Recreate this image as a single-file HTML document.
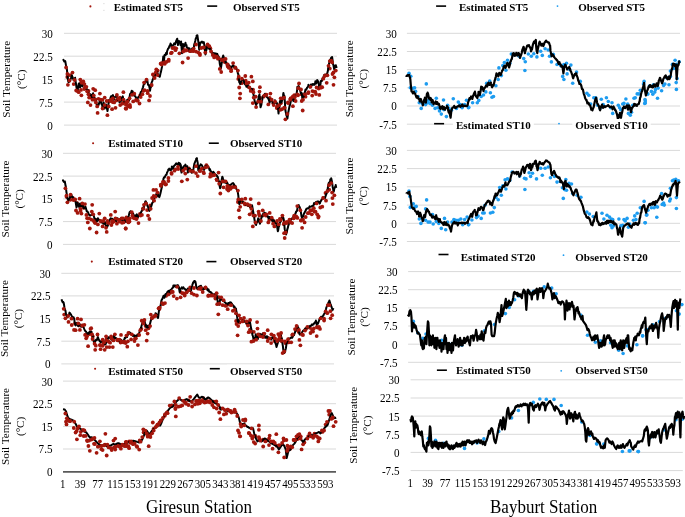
<!DOCTYPE html><html><head><meta charset="utf-8"><style>html,body{margin:0;padding:0;background:#fff;width:685px;height:517px;overflow:hidden}svg{display:block;will-change:transform}text{font-family:"Liberation Serif",serif;fill:#000}</style></head><body>
<svg width="685" height="517" viewBox="0 0 685 517">
<rect width="685" height="517" fill="#fff"/>
<text transform="translate(52.8,37.7) scale(1,1.09)" font-size="11.1" text-anchor="end">30</text>
<text transform="translate(52.8,60.6) scale(1,1.09)" font-size="11.1" text-anchor="end">22.5</text>
<text transform="translate(52.8,83.6) scale(1,1.09)" font-size="11.1" text-anchor="end">15</text>
<text transform="translate(52.8,106.5) scale(1,1.09)" font-size="11.1" text-anchor="end">7.5</text>
<text transform="translate(52.8,129.5) scale(1,1.09)" font-size="11.1" text-anchor="end">0</text>
<line x1="64" x2="337" y1="33.3" y2="33.3" stroke="#d9d9d9" stroke-width="1"/><line x1="64" x2="337" y1="56.2" y2="56.2" stroke="#d9d9d9" stroke-width="1"/><line x1="64" x2="337" y1="79.2" y2="79.2" stroke="#d9d9d9" stroke-width="1"/><line x1="64" x2="337" y1="102.1" y2="102.1" stroke="#d9d9d9" stroke-width="1"/><line x1="64" x2="337" y1="125.1" y2="125.1" stroke="#d9d9d9" stroke-width="1"/>
<text transform="translate(9.9,79.2) rotate(-90)" font-size="11.2" text-anchor="middle">Soil Temperature</text>
<text transform="translate(24.5,79.2) rotate(-90)" font-size="11.2" text-anchor="middle">(°C)</text>
<text transform="translate(52.5,157.7) scale(1,1.09)" font-size="11.1" text-anchor="end">30</text>
<text transform="translate(52.5,180.5) scale(1,1.09)" font-size="11.1" text-anchor="end">22.5</text>
<text transform="translate(52.5,203.3) scale(1,1.09)" font-size="11.1" text-anchor="end">15</text>
<text transform="translate(52.5,226) scale(1,1.09)" font-size="11.1" text-anchor="end">7.5</text>
<text transform="translate(52.5,248.8) scale(1,1.09)" font-size="11.1" text-anchor="end">0</text>
<line x1="63" x2="336" y1="153.3" y2="153.3" stroke="#d9d9d9" stroke-width="1"/><line x1="63" x2="336" y1="176.1" y2="176.1" stroke="#d9d9d9" stroke-width="1"/><line x1="63" x2="336" y1="198.9" y2="198.9" stroke="#d9d9d9" stroke-width="1"/><line x1="63" x2="336" y1="221.6" y2="221.6" stroke="#d9d9d9" stroke-width="1"/><line x1="63" x2="336" y1="244.4" y2="244.4" stroke="#d9d9d9" stroke-width="1"/>
<text transform="translate(9.2,198.9) rotate(-90)" font-size="11.2" text-anchor="middle">Soil Temperature</text>
<text transform="translate(22.7,198.9) rotate(-90)" font-size="11.2" text-anchor="middle">(°C)</text>
<text transform="translate(50.5,277.7) scale(1,1.09)" font-size="11.1" text-anchor="end">30</text>
<text transform="translate(50.5,300.3) scale(1,1.09)" font-size="11.1" text-anchor="end">22.5</text>
<text transform="translate(50.5,323) scale(1,1.09)" font-size="11.1" text-anchor="end">15</text>
<text transform="translate(50.5,345.6) scale(1,1.09)" font-size="11.1" text-anchor="end">7.5</text>
<text transform="translate(50.5,368.3) scale(1,1.09)" font-size="11.1" text-anchor="end">0</text>
<line x1="61.3" x2="334" y1="273.3" y2="273.3" stroke="#d9d9d9" stroke-width="1"/><line x1="61.3" x2="334" y1="295.9" y2="295.9" stroke="#d9d9d9" stroke-width="1"/><line x1="61.3" x2="334" y1="318.6" y2="318.6" stroke="#d9d9d9" stroke-width="1"/><line x1="61.3" x2="334" y1="341.2" y2="341.2" stroke="#d9d9d9" stroke-width="1"/><line x1="61.3" x2="334" y1="363.9" y2="363.9" stroke="#d9d9d9" stroke-width="1"/>
<text transform="translate(8.1,318.6) rotate(-90)" font-size="11.2" text-anchor="middle">Soil Temperature</text>
<text transform="translate(21.7,318.6) rotate(-90)" font-size="11.2" text-anchor="middle">(°C)</text>
<text transform="translate(52.5,385.5) scale(1,1.09)" font-size="11.1" text-anchor="end">30</text>
<text transform="translate(52.5,408.1) scale(1,1.09)" font-size="11.1" text-anchor="end">22.5</text>
<text transform="translate(52.5,430.8) scale(1,1.09)" font-size="11.1" text-anchor="end">15</text>
<text transform="translate(52.5,453.4) scale(1,1.09)" font-size="11.1" text-anchor="end">7.5</text>
<text transform="translate(52.5,476) scale(1,1.09)" font-size="11.1" text-anchor="end">0</text>
<line x1="63" x2="336" y1="381.1" y2="381.1" stroke="#d9d9d9" stroke-width="1"/><line x1="63" x2="336" y1="403.7" y2="403.7" stroke="#d9d9d9" stroke-width="1"/><line x1="63" x2="336" y1="426.4" y2="426.4" stroke="#d9d9d9" stroke-width="1"/><line x1="63" x2="336" y1="449" y2="449" stroke="#d9d9d9" stroke-width="1"/>
<line x1="63" x2="336" y1="471.8" y2="471.8" stroke="#5a5a5a" stroke-width="1.7"/>
<text transform="translate(9.2,426.4) rotate(-90)" font-size="11.2" text-anchor="middle">Soil Temperature</text>
<text transform="translate(23.6,426.4) rotate(-90)" font-size="11.2" text-anchor="middle">(°C)</text>
<text transform="translate(396.8,37.7) scale(1,1.09)" font-size="11.1" text-anchor="end">30</text>
<text transform="translate(396.8,55.9) scale(1,1.09)" font-size="11.1" text-anchor="end">22.5</text>
<text transform="translate(396.8,74.1) scale(1,1.09)" font-size="11.1" text-anchor="end">15</text>
<text transform="translate(396.8,92.2) scale(1,1.09)" font-size="11.1" text-anchor="end">7.5</text>
<text transform="translate(396.8,110.4) scale(1,1.09)" font-size="11.1" text-anchor="end">0</text>
<text transform="translate(396.8,128.6) scale(1,1.09)" font-size="11.1" text-anchor="end">-7.5</text>
<line x1="406.9" x2="680" y1="33.3" y2="33.3" stroke="#d9d9d9" stroke-width="1"/><line x1="406.9" x2="680" y1="51.5" y2="51.5" stroke="#d9d9d9" stroke-width="1"/><line x1="406.9" x2="680" y1="69.7" y2="69.7" stroke="#d9d9d9" stroke-width="1"/><line x1="406.9" x2="680" y1="87.8" y2="87.8" stroke="#d9d9d9" stroke-width="1"/><line x1="406.9" x2="680" y1="106" y2="106" stroke="#d9d9d9" stroke-width="1"/><line x1="406.9" x2="680" y1="124.2" y2="124.2" stroke="#d9d9d9" stroke-width="1"/>
<text transform="translate(353,78.8) rotate(-90)" font-size="11.2" text-anchor="middle">Soil Temperature</text>
<text transform="translate(367.2,78.8) rotate(-90)" font-size="11.2" text-anchor="middle">(°C)</text>
<text transform="translate(396.8,154.8) scale(1,1.09)" font-size="11.1" text-anchor="end">30</text>
<text transform="translate(396.8,173) scale(1,1.09)" font-size="11.1" text-anchor="end">22.5</text>
<text transform="translate(396.8,191.2) scale(1,1.09)" font-size="11.1" text-anchor="end">15</text>
<text transform="translate(396.8,209.5) scale(1,1.09)" font-size="11.1" text-anchor="end">7.5</text>
<text transform="translate(396.8,227.7) scale(1,1.09)" font-size="11.1" text-anchor="end">0</text>
<text transform="translate(396.8,245.9) scale(1,1.09)" font-size="11.1" text-anchor="end">-7.5</text>
<line x1="406.9" x2="680" y1="150.4" y2="150.4" stroke="#d9d9d9" stroke-width="1"/><line x1="406.9" x2="680" y1="168.6" y2="168.6" stroke="#d9d9d9" stroke-width="1"/><line x1="406.9" x2="680" y1="186.8" y2="186.8" stroke="#d9d9d9" stroke-width="1"/><line x1="406.9" x2="680" y1="205.1" y2="205.1" stroke="#d9d9d9" stroke-width="1"/><line x1="406.9" x2="680" y1="223.3" y2="223.3" stroke="#d9d9d9" stroke-width="1"/><line x1="406.9" x2="680" y1="241.5" y2="241.5" stroke="#d9d9d9" stroke-width="1"/>
<text transform="translate(352.5,195.9) rotate(-90)" font-size="11.2" text-anchor="middle">Soil Temperature</text>
<text transform="translate(367.3,195.9) rotate(-90)" font-size="11.2" text-anchor="middle">(°C)</text>
<text transform="translate(397.6,276) scale(1,1.09)" font-size="11.1" text-anchor="end">30</text>
<text transform="translate(397.6,294.1) scale(1,1.09)" font-size="11.1" text-anchor="end">22.5</text>
<text transform="translate(397.6,312.3) scale(1,1.09)" font-size="11.1" text-anchor="end">15</text>
<text transform="translate(397.6,330.4) scale(1,1.09)" font-size="11.1" text-anchor="end">7.5</text>
<text transform="translate(397.6,348.6) scale(1,1.09)" font-size="11.1" text-anchor="end">0</text>
<text transform="translate(397.6,366.7) scale(1,1.09)" font-size="11.1" text-anchor="end">-7.5</text>
<line x1="408.1" x2="681" y1="271.6" y2="271.6" stroke="#d9d9d9" stroke-width="1"/><line x1="408.1" x2="681" y1="289.7" y2="289.7" stroke="#d9d9d9" stroke-width="1"/><line x1="408.1" x2="681" y1="307.9" y2="307.9" stroke="#d9d9d9" stroke-width="1"/><line x1="408.1" x2="681" y1="326" y2="326" stroke="#d9d9d9" stroke-width="1"/><line x1="408.1" x2="681" y1="344.2" y2="344.2" stroke="#d9d9d9" stroke-width="1"/><line x1="408.1" x2="681" y1="362.3" y2="362.3" stroke="#d9d9d9" stroke-width="1"/>
<text transform="translate(355,317) rotate(-90)" font-size="11.2" text-anchor="middle">Soil Temperature</text>
<text transform="translate(368.4,317) rotate(-90)" font-size="11.2" text-anchor="middle">(°C)</text>
<text transform="translate(399.5,384.2) scale(1,1.09)" font-size="11.1" text-anchor="end">30</text>
<text transform="translate(399.5,402.4) scale(1,1.09)" font-size="11.1" text-anchor="end">22.5</text>
<text transform="translate(399.5,420.5) scale(1,1.09)" font-size="11.1" text-anchor="end">15</text>
<text transform="translate(399.5,438.7) scale(1,1.09)" font-size="11.1" text-anchor="end">7.5</text>
<text transform="translate(399.5,456.8) scale(1,1.09)" font-size="11.1" text-anchor="end">0</text>
<text transform="translate(399.5,475) scale(1,1.09)" font-size="11.1" text-anchor="end">-7.5</text>
<line x1="410.6" x2="682.8" y1="379.8" y2="379.8" stroke="#d9d9d9" stroke-width="1"/><line x1="410.6" x2="682.8" y1="398" y2="398" stroke="#d9d9d9" stroke-width="1"/><line x1="410.6" x2="682.8" y1="416.1" y2="416.1" stroke="#d9d9d9" stroke-width="1"/><line x1="410.6" x2="682.8" y1="434.3" y2="434.3" stroke="#d9d9d9" stroke-width="1"/><line x1="410.6" x2="682.8" y1="452.4" y2="452.4" stroke="#d9d9d9" stroke-width="1"/><line x1="410.6" x2="682.8" y1="470.6" y2="470.6" stroke="#d9d9d9" stroke-width="1"/>
<text transform="translate(357.4,425.2) rotate(-90)" font-size="11.2" text-anchor="middle">Soil Temperature</text>
<text transform="translate(370.7,425.2) rotate(-90)" font-size="11.2" text-anchor="middle">(°C)</text>
<g fill="#a3160c"><circle cx="67.3" cy="77" r="1.9"/><circle cx="70.1" cy="75.2" r="1.9"/><circle cx="73.7" cy="84.1" r="1.9"/><circle cx="77.7" cy="91" r="1.9"/><circle cx="81.2" cy="82.2" r="1.9"/><circle cx="84.2" cy="89" r="1.9"/><circle cx="88.5" cy="91" r="1.9"/><circle cx="91.5" cy="97.7" r="1.9"/><circle cx="95.3" cy="99.4" r="1.9"/><circle cx="98.5" cy="98.8" r="1.9"/><circle cx="102.4" cy="99.9" r="1.9"/><circle cx="105.2" cy="105.8" r="1.9"/><circle cx="108.9" cy="101" r="1.9"/><circle cx="112.7" cy="102.1" r="1.9"/><circle cx="116.6" cy="100.3" r="1.9"/><circle cx="120" cy="97.6" r="1.9"/><circle cx="123.3" cy="103.1" r="1.9"/><circle cx="126.5" cy="102.7" r="1.9"/><circle cx="129.9" cy="104.9" r="1.9"/><circle cx="133.2" cy="101.4" r="1.9"/><circle cx="137" cy="100.6" r="1.9"/><circle cx="140.2" cy="95.3" r="1.9"/><circle cx="144.6" cy="90.2" r="1.9"/><circle cx="147.7" cy="93.2" r="1.9"/><circle cx="151" cy="85.6" r="1.9"/><circle cx="154.1" cy="75.5" r="1.9"/><circle cx="157.7" cy="70.6" r="1.9"/><circle cx="161.2" cy="63.3" r="1.9"/><circle cx="164.8" cy="63.8" r="1.9"/><circle cx="168.7" cy="60.9" r="1.9"/><circle cx="171.8" cy="52.6" r="1.9"/><circle cx="175.5" cy="50.2" r="1.9"/><circle cx="179.4" cy="53.3" r="1.9"/><circle cx="182.9" cy="48.5" r="1.9"/><circle cx="186" cy="50.1" r="1.9"/><circle cx="189.9" cy="51.2" r="1.9"/><circle cx="193.3" cy="51.2" r="1.9"/><circle cx="196.1" cy="51.6" r="1.9"/><circle cx="199.7" cy="53.7" r="1.9"/><circle cx="204" cy="47.6" r="1.9"/><circle cx="207" cy="46.5" r="1.9"/><circle cx="210.4" cy="48.4" r="1.9"/><circle cx="214.2" cy="57.4" r="1.9"/><circle cx="217.9" cy="58.7" r="1.9"/><circle cx="221.2" cy="59.3" r="1.9"/><circle cx="224.7" cy="62" r="1.9"/><circle cx="227.8" cy="66.5" r="1.9"/><circle cx="231.2" cy="69.6" r="1.9"/><circle cx="235.3" cy="67.3" r="1.9"/><circle cx="238.3" cy="78.9" r="1.9"/><circle cx="241.8" cy="83.2" r="1.9"/><circle cx="245.7" cy="80.6" r="1.9"/><circle cx="248.7" cy="82.7" r="1.9"/><circle cx="253" cy="89.6" r="1.9"/><circle cx="255.7" cy="96.7" r="1.9"/><circle cx="260.1" cy="98" r="1.9"/><circle cx="263.5" cy="96.7" r="1.9"/><circle cx="266.3" cy="94.6" r="1.9"/><circle cx="269.7" cy="97.9" r="1.9"/><circle cx="273.3" cy="103.3" r="1.9"/><circle cx="276.8" cy="108" r="1.9"/><circle cx="280.8" cy="103.3" r="1.9"/><circle cx="284.2" cy="107.7" r="1.9"/><circle cx="287.9" cy="102.4" r="1.9"/><circle cx="290.7" cy="98.4" r="1.9"/><circle cx="294.3" cy="95.2" r="1.9"/><circle cx="298" cy="95.3" r="1.9"/><circle cx="301.3" cy="94.2" r="1.9"/><circle cx="305.5" cy="96.7" r="1.9"/><circle cx="308.2" cy="93.2" r="1.9"/><circle cx="312.4" cy="91.1" r="1.9"/><circle cx="316" cy="94" r="1.9"/><circle cx="318.7" cy="88.6" r="1.9"/><circle cx="322.2" cy="87.2" r="1.9"/><circle cx="325.8" cy="75.2" r="1.9"/><circle cx="329.8" cy="68.6" r="1.9"/><circle cx="333.5" cy="72.4" r="1.9"/></g>
<polyline fill="none" stroke="#000" stroke-width="2" stroke-linejoin="round" points="63.4,60.2 63.4,59.7 64.3,61.5 65.2,61.1 65.4,61.8 66.1,66.1 66.5,67.2 67,70.1 67.4,75.3 67.9,79.4 68.4,82.1 68.8,82 69.7,81.1 69.7,81.4 70.6,79.2 71.5,76.9 71.9,75.3 72.4,77 73.3,79.1 73.5,80 74.2,79.1 75.1,77.7 75.2,79.4 76,83.8 76.5,87.5 76.9,88.8 77.6,89.5 77.8,89.2 78.7,83.7 79,83.4 79.6,86.9 80,87.5 80.5,85.2 81,83.4 81.4,83.7 82.3,86.4 82.3,85.5 83.2,84.1 83.7,83.4 84.1,83.3 85,87.5 85,86.8 85.9,87.9 86.4,89.5 86.8,89 87.7,89.9 87.8,90.9 88.6,93.2 89.1,95.6 89.5,95.3 90.4,95 90.5,94.3 91.3,95 91.8,97 92.2,97.3 93.1,93.3 93.2,94.3 94,96.6 94.5,98.3 94.9,98.7 95.8,101.9 95.9,101 96.7,104.4 97.2,106.4 97.6,105.6 98.5,104.5 98.6,105.1 99.4,102.3 99.9,100.4 100.3,101.1 101.2,102.3 101.3,103.7 102.1,104.9 102.6,107.8 103,106.2 103.6,102.4 103.9,103.8 104.7,108.5 104.8,107.8 105.7,105.7 106,104.4 106.6,107 107.4,110.5 107.5,111.1 108.4,104.2 108.5,103.7 109.3,100.6 109.8,99.7 110.2,98.8 111.1,96.2 111.2,97 112,96.6 112.5,95.6 112.9,95 113.8,98.4 113.9,99.7 114.7,97.2 115.2,97 115.6,96.5 116.5,95.8 116.6,95.6 117.4,98.9 117.9,99.7 118.3,100.2 119.2,100.7 119.6,102.4 120.1,101.9 120.9,101 121,100.4 121.9,97.8 122.6,97 122.8,96.4 123.7,102 123.9,101 124.6,101.2 125.3,101.7 125.5,101.9 126.4,101.7 127,100.4 127.3,99.7 128.2,101.1 129,100.4 129.1,100.1 130,94.4 130.2,93.7 130.9,93.5 131.7,90.8 131.8,90.9 132.7,91.3 133.1,93.7 133.6,94.3 134.5,95.9 134.9,96 135.4,96.3 136.3,98.5 136.6,98.3 137.2,98.4 138.1,97.8 138.3,97.1 139,97 139.9,96.4 140.1,94.8 140.8,92 141.7,91.4 141.8,91.3 142.6,88.3 143,87.3 143.5,85.2 144.1,83.2 144.4,84.1 145.3,81.3 145.9,80.9 146.2,81.7 147.1,81.7 147.3,80.3 148,84.6 148.2,85 148.9,85.1 149.8,89 150,90.8 150.7,86.5 151.1,86.7 151.6,82.7 152.5,80.6 152.6,79.7 153.4,78.2 154,75.1 154.3,75.3 155.2,75.4 155.4,72.8 156.1,72.9 156.9,71.6 157,71.4 157.9,74.4 158.7,76.2 158.8,75.5 159.7,76.1 159.8,76.8 160.6,72.9 161,71.6 161.5,69.1 162.1,66.4 162.4,64.6 163.3,56.4 163.5,56.7 163.9,62.3 164.2,58.5 164.6,55 165.1,54.8 165.8,55 166,52.9 166.9,53.9 167,51.5 167.8,49.4 168.1,48.6 168.7,48.2 169.3,46.2 169.6,45.8 170.4,44.5 170.5,43.6 171.4,45.1 171.6,47.4 172.3,45.8 172.8,45.7 173.2,45 173.9,44.5 174.1,43.5 175,43.2 175.1,44.5 175.9,42.2 176.2,41 176.8,39.6 177.2,38.7 177.7,42.1 178,45.1 178.6,41.4 179.1,41 179.5,42 180.3,43.3 180.4,44.9 181.1,41.6 181.3,44.1 182,53.2 182.2,52.1 183,43.9 183.1,44.2 184,44.5 184.4,46.2 184.9,45.5 185.5,42.8 185.8,44.7 186.5,45.1 186.7,47.3 187.3,47.4 187.6,47.4 188.1,49.1 188.5,50.2 189,48.6 189.4,48.3 190.2,49.7 190.3,50.9 191.1,50.9 191.2,51.6 191.9,50.3 192.1,48.6 193,49.2 193.1,49.1 193.9,47 194.2,44.5 194.8,42.7 195.4,40.4 195.7,38.8 196.6,37 196.6,35.6 197.4,35.2 197.5,36 198.3,41.6 198.4,42.1 199.2,49.7 199.3,49.5 200,43.9 200.2,42.6 201.1,42.6 201.2,42.2 202,41.6 202.4,42.8 202.9,42.2 203.5,42.8 203.8,42.1 204.7,47.4 204.7,48.8 205.5,54.4 205.6,53.5 206.4,49.7 206.5,49.9 207.3,46.2 207.4,44.8 208.3,44.8 208.5,47.4 209.2,48.7 209.7,48.6 210.1,48.8 210.8,50.9 211,50.5 211.9,52.9 212.2,53.2 212.8,52.9 213.4,53.2 213.7,54.1 214.5,54.4 214.6,53.2 215.5,53.4 215.7,55 216.4,53.7 216.9,53.8 217.3,54 218,56.1 218.2,56 219,57.3 219.1,57.8 219.8,63.7 220,64.7 220.9,68.6 220.9,68.3 221.8,62.7 222.1,61.3 222.7,57.4 223.2,55.5 223.6,56.5 224.4,60.2 224.5,60.3 225.4,61 225.6,62.5 226.3,62.7 226.4,62.4 226.7,63.7 227.2,64 227.7,65.2 228.1,65.1 228.5,64.8 229,65.7 229.1,65.8 229.9,66.1 230.4,67.9 230.8,66.8 231.7,67.1 231.8,66.5 232.6,66.2 233.1,65.2 233.5,66.2 234.4,67.3 234.5,66.5 235.3,67.6 235.8,68.5 236.2,68.1 237.1,69.8 237.2,69.9 238,74 238.3,74 238.9,78.5 239.2,82.1 239.8,83.1 240.2,84.1 240.7,82.7 241.2,81.4 241.6,80.3 242.3,79.4 242.5,80.2 243.4,80.1 243.7,80.7 244.3,83.1 245,84.1 245.2,84.5 246.1,85.3 246.4,86.8 247,85.6 247.7,84.8 247.9,87.5 248.8,86.4 249.1,86.8 249.7,87.5 250.5,89.5 250.6,89.4 251.5,89.2 251.8,88.8 252.4,91.3 253.2,93.6 253.3,93.1 254.1,98.3 254.2,98.5 255.1,103.1 255.1,102.2 256,104.7 256.1,105.1 256.9,102.9 257.2,103.1 257.8,100.7 258.6,98.3 258.7,96.8 259.5,94.3 259.6,95.6 260.5,107.1 260.5,107.3 261.4,104.7 261.6,102.4 262.3,99.4 262.6,97 263.2,96.3 264,94.9 264.1,96 265,93.8 265.3,95.6 265.9,95.8 266.7,97 266.8,96.9 267.7,97.9 268.1,98.3 268.6,99.3 269.4,101.7 269.5,103 270.4,99.4 270.8,99 271.3,99.5 272.1,101.7 272.2,101.7 273.1,103 273.5,104.4 274,103.5 274.8,101 274.9,100.2 275.8,102.6 276.2,103.1 276.7,102.7 277.5,105.1 277.6,105 278.5,113.2 278.5,113.6 279.4,106.7 279.4,107.8 280,101 280.3,101.9 280.5,102.4 281.2,100.6 281.4,102.4 282.1,100.6 282.4,99.7 283,96 283.4,92.9 283.9,95.4 284.3,95.6 284.8,100.7 285.4,110.5 285.7,111.9 286.5,115.9 286.6,115.6 287.4,118.6 287.5,117.9 288.4,111.7 288.4,111.9 289.3,107.3 289.5,106.4 290.2,104.1 290.8,101 291.1,100.2 292,98 292.2,98.3 292.9,99.8 293.5,101 293.8,100.5 294.7,97.5 294.9,97 295.6,95.3 296.2,94.3 296.5,94.5 297.3,88.8 297.4,86.7 298.3,87 298.7,86.1 299.2,87.7 300,88.8 300.1,90.5 301,93.5 301.4,92.9 301.9,94.4 302.3,98.3 302.8,98.4 303.3,95.6 303.7,96.5 304.4,92.9 304.6,93.5 305.5,89.4 305.7,90.2 306.4,89.4 307.1,87.5 307.3,87.7 308.2,86.4 308.4,84.8 309.1,85.9 309.8,86.1 310,87.6 310.9,84.4 311.1,85.5 311.8,85.3 312.5,84.1 312.7,84.8 313.6,84.6 313.8,84.1 314.5,84.8 315.2,82.8 315.4,81.2 316.3,82.1 316.3,83.4 317.2,80.2 317.2,80 318.1,81.6 318.2,81.4 319,85.3 319.3,87.5 319.9,87.9 320.6,83.4 320.8,80.9 321.7,81.1 322,80.7 322.6,78.3 323.1,78 323.5,76.8 324.4,74.7 324.4,76.7 325.3,75.7 325.8,75.3 326.2,75.9 327.1,74.8 327.1,74 328,70.3 328.1,68.5 328.9,64.8 329,63.8 329.8,60.7 330.1,59.7 330.7,59.1 331.2,57.7 331.6,57.6 332.1,57 332.5,59.7 333.1,64.5 333.4,65 334.2,69.2 334.3,69.5 334.8,65.8 335.2,66.2 335.8,65.2 336.1,66.1 336.6,67.9"/>
<g fill="#a3160c"><circle cx="66.1" cy="67.5" r="1.9"/><circle cx="67.4" cy="74" r="1.9"/><circle cx="67.9" cy="84.8" r="1.9"/><circle cx="69.5" cy="80.5" r="1.9"/><circle cx="72.5" cy="72.6" r="1.9"/><circle cx="74.6" cy="80" r="1.9"/><circle cx="76.2" cy="90.5" r="1.9"/><circle cx="78.7" cy="92.2" r="1.9"/><circle cx="80.3" cy="79.6" r="1.9"/><circle cx="81.4" cy="95.3" r="1.9"/><circle cx="81" cy="89.9" r="1.9"/><circle cx="83.3" cy="81.4" r="1.9"/><circle cx="84.4" cy="84.1" r="1.9"/><circle cx="86.4" cy="86.8" r="1.9"/><circle cx="87.1" cy="91.3" r="1.9"/><circle cx="88.4" cy="94.3" r="1.9"/><circle cx="89.1" cy="97.6" r="1.9"/><circle cx="87.8" cy="102.4" r="1.9"/><circle cx="90.5" cy="105.1" r="1.9"/><circle cx="93.2" cy="88.8" r="1.9"/><circle cx="93.8" cy="95.6" r="1.9"/><circle cx="94.9" cy="99.7" r="1.9"/><circle cx="95.9" cy="102.4" r="1.9"/><circle cx="97.6" cy="112.9" r="1.9"/><circle cx="99.9" cy="93.6" r="1.9"/><circle cx="97.2" cy="106.4" r="1.9"/><circle cx="100.6" cy="99.7" r="1.9"/><circle cx="104.7" cy="97.6" r="1.9"/><circle cx="104.7" cy="105.1" r="1.9"/><circle cx="107.4" cy="115.2" r="1.9"/><circle cx="108.7" cy="106.4" r="1.9"/><circle cx="110.1" cy="101" r="1.9"/><circle cx="112.1" cy="109.2" r="1.9"/><circle cx="112.8" cy="98.3" r="1.9"/><circle cx="114.2" cy="102.4" r="1.9"/><circle cx="115.5" cy="107.8" r="1.9"/><circle cx="116.9" cy="94.9" r="1.9"/><circle cx="118.2" cy="98.3" r="1.9"/><circle cx="120.2" cy="105.1" r="1.9"/><circle cx="123.4" cy="92.2" r="1.9"/><circle cx="123.6" cy="99.7" r="1.9"/><circle cx="125.7" cy="108.5" r="1.9"/><circle cx="127.7" cy="101.7" r="1.9"/><circle cx="129" cy="106.4" r="1.9"/><circle cx="102.6" cy="108.5" r="1.9"/><circle cx="106.7" cy="101" r="1.9"/><circle cx="111.4" cy="99.7" r="1.9"/><circle cx="119.6" cy="99.7" r="1.9"/><circle cx="122.3" cy="103.7" r="1.9"/><circle cx="126.3" cy="102.4" r="1.9"/><circle cx="92.5" cy="99.7" r="1.9"/><circle cx="95.2" cy="90.2" r="1.9"/><circle cx="85" cy="87.5" r="1.9"/><circle cx="81.7" cy="82.8" r="1.9"/><circle cx="125.9" cy="104.7" r="1.9"/><circle cx="126.2" cy="108.7" r="1.9"/><circle cx="127.9" cy="105.8" r="1.9"/><circle cx="130.2" cy="107" r="1.9"/><circle cx="129.6" cy="98.3" r="1.9"/><circle cx="132" cy="94.8" r="1.9"/><circle cx="134.3" cy="93.7" r="1.9"/><circle cx="136" cy="100" r="1.9"/><circle cx="137.8" cy="100.6" r="1.9"/><circle cx="139.5" cy="103.5" r="1.9"/><circle cx="140.7" cy="97.1" r="1.9"/><circle cx="142.4" cy="94.2" r="1.9"/><circle cx="143.6" cy="90.8" r="1.9"/><circle cx="144.1" cy="82.6" r="1.9"/><circle cx="146.5" cy="79.7" r="1.9"/><circle cx="147.6" cy="90.8" r="1.9"/><circle cx="150" cy="96" r="1.9"/><circle cx="149.1" cy="100.4" r="1.9"/><circle cx="151.7" cy="85" r="1.9"/><circle cx="152.9" cy="74.5" r="1.9"/><circle cx="154.6" cy="78" r="1.9"/><circle cx="155.8" cy="72.2" r="1.9"/><circle cx="156.3" cy="69.3" r="1.9"/><circle cx="157.5" cy="75.1" r="1.9"/><circle cx="161.6" cy="64.6" r="1.9"/><circle cx="160.6" cy="63.7" r="1.9"/><circle cx="162.3" cy="63.1" r="1.9"/><circle cx="164.6" cy="62.5" r="1.9"/><circle cx="166.4" cy="61.9" r="1.9"/><circle cx="168.7" cy="59.6" r="1.9"/><circle cx="171" cy="53.2" r="1.9"/><circle cx="172.5" cy="48" r="1.9"/><circle cx="174.5" cy="48" r="1.9"/><circle cx="176.2" cy="48.3" r="1.9"/><circle cx="182.6" cy="62.5" r="1.9"/><circle cx="183.2" cy="51.5" r="1.9"/><circle cx="185" cy="50.7" r="1.9"/><circle cx="186.7" cy="50.3" r="1.9"/><circle cx="188.1" cy="58.1" r="1.9"/><circle cx="190.8" cy="50.9" r="1.9"/><circle cx="192.5" cy="50.3" r="1.9"/><circle cx="193.7" cy="48.6" r="1.9"/><circle cx="196" cy="44.5" r="1.9"/><circle cx="198.3" cy="52.6" r="1.9"/><circle cx="200" cy="55" r="1.9"/><circle cx="201.2" cy="48" r="1.9"/><circle cx="203.5" cy="47.4" r="1.9"/><circle cx="205.3" cy="52.6" r="1.9"/><circle cx="207.6" cy="44.5" r="1.9"/><circle cx="209.3" cy="46.2" r="1.9"/><circle cx="211.1" cy="51.5" r="1.9"/><circle cx="212.8" cy="55" r="1.9"/><circle cx="215.1" cy="56.1" r="1.9"/><circle cx="216.9" cy="56.7" r="1.9"/><circle cx="218.6" cy="58.4" r="1.9"/><circle cx="219.8" cy="68.9" r="1.9"/><circle cx="221.2" cy="72" r="1.9"/><circle cx="222.1" cy="60.2" r="1.9"/><circle cx="223.8" cy="59.6" r="1.9"/><circle cx="225.6" cy="59" r="1.9"/><circle cx="227.3" cy="64.8" r="1.9"/><circle cx="228.5" cy="67.1" r="1.9"/><circle cx="227.7" cy="64.5" r="1.9"/><circle cx="229.1" cy="67.9" r="1.9"/><circle cx="231.1" cy="71.2" r="1.9"/><circle cx="233.1" cy="63.1" r="1.9"/><circle cx="235.2" cy="67.9" r="1.9"/><circle cx="237.9" cy="70.6" r="1.9"/><circle cx="238.8" cy="76.7" r="1.9"/><circle cx="239.2" cy="87.5" r="1.9"/><circle cx="240.2" cy="93.6" r="1.9"/><circle cx="239.9" cy="98.3" r="1.9"/><circle cx="241.9" cy="78.7" r="1.9"/><circle cx="245.3" cy="76" r="1.9"/><circle cx="246.7" cy="83.4" r="1.9"/><circle cx="249.4" cy="87.5" r="1.9"/><circle cx="251.4" cy="76.7" r="1.9"/><circle cx="252.8" cy="81.4" r="1.9"/><circle cx="250.7" cy="90.9" r="1.9"/><circle cx="253.4" cy="92.2" r="1.9"/><circle cx="253.7" cy="97.6" r="1.9"/><circle cx="252.8" cy="103.1" r="1.9"/><circle cx="256.1" cy="107.1" r="1.9"/><circle cx="259.9" cy="87.2" r="1.9"/><circle cx="259.5" cy="91.6" r="1.9"/><circle cx="260.9" cy="101.7" r="1.9"/><circle cx="258.2" cy="101.7" r="1.9"/><circle cx="264.3" cy="95.6" r="1.9"/><circle cx="266.3" cy="94.9" r="1.9"/><circle cx="268.3" cy="104.4" r="1.9"/><circle cx="270.4" cy="93.6" r="1.9"/><circle cx="271.7" cy="99.7" r="1.9"/><circle cx="273.7" cy="105.1" r="1.9"/><circle cx="275.1" cy="101.7" r="1.9"/><circle cx="277.1" cy="106.4" r="1.9"/><circle cx="279.2" cy="105.1" r="1.9"/><circle cx="280.5" cy="109.8" r="1.9"/><circle cx="280.7" cy="98.3" r="1.9"/><circle cx="282.7" cy="98.3" r="1.9"/><circle cx="284.1" cy="97.6" r="1.9"/><circle cx="282" cy="109.2" r="1.9"/><circle cx="284.7" cy="107.8" r="1.9"/><circle cx="285.4" cy="119.3" r="1.9"/><circle cx="287.4" cy="113.9" r="1.9"/><circle cx="288.1" cy="103.1" r="1.9"/><circle cx="290.2" cy="99.7" r="1.9"/><circle cx="290.8" cy="98.3" r="1.9"/><circle cx="292.9" cy="96.3" r="1.9"/><circle cx="292.9" cy="106.2" r="1.9"/><circle cx="294.9" cy="97" r="1.9"/><circle cx="295.6" cy="101" r="1.9"/><circle cx="297.3" cy="94.3" r="1.9"/><circle cx="298.3" cy="88.2" r="1.9"/><circle cx="299" cy="83.4" r="1.9"/><circle cx="301" cy="89.5" r="1.9"/><circle cx="301.7" cy="101" r="1.9"/><circle cx="303" cy="99.7" r="1.9"/><circle cx="302.7" cy="110.5" r="1.9"/><circle cx="305" cy="94.3" r="1.9"/><circle cx="308.4" cy="92.2" r="1.9"/><circle cx="310.5" cy="86.8" r="1.9"/><circle cx="312.2" cy="95.6" r="1.9"/><circle cx="313.8" cy="91.6" r="1.9"/><circle cx="315.2" cy="91.6" r="1.9"/><circle cx="316.6" cy="87.5" r="1.9"/><circle cx="319.3" cy="94.9" r="1.9"/><circle cx="320.6" cy="87.5" r="1.9"/><circle cx="321.3" cy="87.5" r="1.9"/><circle cx="323.3" cy="78.7" r="1.9"/><circle cx="324.7" cy="76" r="1.9"/><circle cx="326.7" cy="82.8" r="1.9"/><circle cx="327.4" cy="75.3" r="1.9"/><circle cx="328.5" cy="65.8" r="1.9"/><circle cx="329.8" cy="61.1" r="1.9"/><circle cx="331.2" cy="60.7" r="1.9"/><circle cx="332.1" cy="62.4" r="1.9"/><circle cx="332.5" cy="74" r="1.9"/><circle cx="333.5" cy="84.8" r="1.9"/><circle cx="334.4" cy="77.3" r="1.9"/><circle cx="335.8" cy="70.6" r="1.9"/></g>
<g fill="#a3160c"><circle cx="66.5" cy="196.8" r="1.9"/><circle cx="70.4" cy="199.8" r="1.9"/><circle cx="73" cy="198.1" r="1.9"/><circle cx="77" cy="202.8" r="1.9"/><circle cx="80.6" cy="211" r="1.9"/><circle cx="83.7" cy="207.9" r="1.9"/><circle cx="87.1" cy="218.2" r="1.9"/><circle cx="91.3" cy="219.6" r="1.9"/><circle cx="94.8" cy="222.4" r="1.9"/><circle cx="97.5" cy="219.7" r="1.9"/><circle cx="101.3" cy="221.7" r="1.9"/><circle cx="105" cy="223.3" r="1.9"/><circle cx="108.1" cy="222.4" r="1.9"/><circle cx="112.3" cy="222.6" r="1.9"/><circle cx="115.7" cy="220.5" r="1.9"/><circle cx="119.4" cy="219.8" r="1.9"/><circle cx="122" cy="222.8" r="1.9"/><circle cx="126.4" cy="217.4" r="1.9"/><circle cx="129.5" cy="221.5" r="1.9"/><circle cx="133.2" cy="217.7" r="1.9"/><circle cx="136.9" cy="217.8" r="1.9"/><circle cx="139.9" cy="213.9" r="1.9"/><circle cx="143.1" cy="208.3" r="1.9"/><circle cx="147.1" cy="210.1" r="1.9"/><circle cx="150.2" cy="205.5" r="1.9"/><circle cx="153.7" cy="196" r="1.9"/><circle cx="157.4" cy="194.1" r="1.9"/><circle cx="160.8" cy="184.6" r="1.9"/><circle cx="164.1" cy="181.8" r="1.9"/><circle cx="168.4" cy="181" r="1.9"/><circle cx="171.5" cy="173" r="1.9"/><circle cx="175.3" cy="169.3" r="1.9"/><circle cx="178.2" cy="169.1" r="1.9"/><circle cx="181.7" cy="170.1" r="1.9"/><circle cx="185.3" cy="173.6" r="1.9"/><circle cx="188.9" cy="168.5" r="1.9"/><circle cx="192.1" cy="170.9" r="1.9"/><circle cx="196" cy="173.1" r="1.9"/><circle cx="199.8" cy="170.9" r="1.9"/><circle cx="203.4" cy="172.1" r="1.9"/><circle cx="206.4" cy="165.1" r="1.9"/><circle cx="210.1" cy="176.7" r="1.9"/><circle cx="213.3" cy="174.9" r="1.9"/><circle cx="216.6" cy="179.3" r="1.9"/><circle cx="220.6" cy="182.8" r="1.9"/><circle cx="223.5" cy="187.3" r="1.9"/><circle cx="227" cy="189.1" r="1.9"/><circle cx="230.6" cy="188.8" r="1.9"/><circle cx="234.3" cy="186.4" r="1.9"/><circle cx="237.9" cy="202" r="1.9"/><circle cx="241.8" cy="202.4" r="1.9"/><circle cx="245" cy="204.4" r="1.9"/><circle cx="248" cy="205.1" r="1.9"/><circle cx="252.2" cy="212.7" r="1.9"/><circle cx="255" cy="215.7" r="1.9"/><circle cx="258.9" cy="213.8" r="1.9"/><circle cx="262.7" cy="210.3" r="1.9"/><circle cx="266.2" cy="215.7" r="1.9"/><circle cx="269.2" cy="219.9" r="1.9"/><circle cx="272.6" cy="219.8" r="1.9"/><circle cx="276" cy="222.6" r="1.9"/><circle cx="279.9" cy="218.8" r="1.9"/><circle cx="283.8" cy="224.2" r="1.9"/><circle cx="287.1" cy="221.9" r="1.9"/><circle cx="290" cy="222" r="1.9"/><circle cx="293.8" cy="218.2" r="1.9"/><circle cx="297.4" cy="217.9" r="1.9"/><circle cx="301" cy="220.5" r="1.9"/><circle cx="304.6" cy="222.4" r="1.9"/><circle cx="307.8" cy="213.2" r="1.9"/><circle cx="311.7" cy="210.3" r="1.9"/><circle cx="314.6" cy="211.7" r="1.9"/><circle cx="318.3" cy="217.5" r="1.9"/><circle cx="322.3" cy="206.7" r="1.9"/><circle cx="325.5" cy="193" r="1.9"/><circle cx="329.2" cy="189.7" r="1.9"/><circle cx="332.4" cy="198.1" r="1.9"/></g>
<polyline fill="none" stroke="#000" stroke-width="2" stroke-linejoin="round" points="63,179.4 63,180.4 63.9,181.9 64.7,181.8 64.8,181.5 65.7,186.4 65.7,185.8 66.5,192.6 66.6,193.2 67.4,198.7 67.5,198.3 68.4,201.1 68.4,200 69.3,198.6 69.7,198 70.2,196.3 71.1,197 71.5,195.3 72,196.3 72.9,197.3 72.9,197.1 73.8,200.1 74.2,200 74.7,200.1 75.6,202.1 75.6,201.8 76.5,207.4 76.5,207.5 77.3,203.4 77.4,202.8 78.3,204.7 78.7,206.1 79.2,206.9 80,204.1 80.1,203.5 81,206.7 81.4,206.1 81.9,205.1 82.7,204.8 82.8,205.4 83.7,208.1 84.1,208.2 84.6,207.8 85.5,207.5 85.5,206.8 86.4,210 86.8,211.6 87.3,211.3 88.2,212.5 88.4,213.6 89.1,214.8 90,215.4 90.1,215.6 90.9,215.2 91.4,214.9 91.8,214.2 92.7,214.5 92.8,214.3 93.6,215.5 94.1,217 94.5,219.2 95.4,218.7 95.5,219.7 96.3,221.3 96.6,221.7 97.2,221 97.9,218.3 98.1,219.3 99,220 99.3,219.7 99.9,220.8 100.6,221.7 100.8,221.4 101.7,222.2 102,221 102.6,221.5 103.3,223.7 103.5,223.7 104.4,221.3 104.7,222.4 105.3,224.2 106,225.8 106.2,226.6 107.1,226.9 107.1,227.1 108,225 108.2,223.7 108.9,223.4 109.4,221 109.8,219.8 110.7,218.4 110.8,218.3 111.6,218.9 112.1,219.7 112.5,218.9 113.4,221.7 113.5,221 114.3,220 114.8,219 115.2,219.6 116.1,220.8 116.2,221 117,220.1 117.5,218.3 117.9,218.8 118.8,220.5 118.9,220.4 119.7,221 120.2,221 120.6,219.2 121.5,219.3 121.6,219 122.4,220.3 123,221 123.3,221.1 124.2,219.4 124.3,219.7 125,219.7 125.1,220.4 125.7,221.7 126,222 126.9,221.3 127,219.7 127.8,218.8 128.7,216 128.8,215.6 129.6,212.3 130.4,211.6 130.5,211.3 131.4,213 132,213.6 132.3,214.9 133.2,213.7 133.8,215.6 134.1,216 135,215.5 135.8,216.3 135.9,215.8 136.8,214.4 137.7,217.2 137.9,217 138.6,215.7 139.5,215.4 139.9,214.9 140.4,214.2 141.2,212.2 141.3,211.4 142.2,210.6 142.6,208.8 143.1,208 144,207.1 144.2,204.8 144.9,203.4 145.3,201.4 145.8,201.3 146.7,203.4 146.7,203.4 147.6,206.3 148,206.8 148.5,208 149.4,210.9 149.4,210.8 150.3,209 150.7,207.5 151.2,206.6 152.1,203.4 152.1,203.2 153,202.1 153.4,200 153.9,199.6 154.8,197.1 154.8,196.7 155.7,196.7 156.4,194 156.6,195.3 157.5,196.3 158.2,195.3 158.4,194.9 159.3,197.1 159.5,196.7 160.2,194.3 160.9,191.2 161.1,190.3 162,186.6 162.2,185.8 162.9,182.6 163.5,178.4 163.8,177.9 164.6,176.7 164.7,177.4 165.6,175.3 165.8,175 166.5,174.8 167,172.6 167.4,171.9 168.1,170.3 168.3,169.5 169.2,168.9 169.3,168.6 170.1,170.2 170.4,169.7 171,170 171.6,168 171.9,166.5 172.8,167.4 172.8,168.8 173.7,166.7 173.9,166.2 174.6,165.3 175.1,165.1 175.5,164.4 176.2,163.3 176.4,163.7 177.3,164 177.4,164.5 178.2,164.4 178.6,162.8 179.1,165.4 179.7,163.3 180,163.5 180.9,165.5 180.9,166.2 181.5,172.6 181.8,171.9 182.6,167.4 182.7,168.5 183.6,167 183.8,166.2 184.5,165.7 185,165.7 185.4,164.6 186.1,166.8 186.3,167.6 187.2,166.2 187.3,167.4 187.9,172.6 188.1,171.9 189,169.5 189,168.6 189.9,169.2 190.2,169.1 190.8,169.9 191.3,170.9 191.7,172.8 192.5,172 192.6,172.2 193.5,168.7 193.7,167.4 194.4,163.5 194.8,162.8 195.3,161.2 196,160.4 196.2,158.8 196.9,158.1 197.1,159.9 197.7,162.8 198,166.9 198.3,170.3 198.9,169.1 199.5,166.2 199.8,165.9 200.6,164.5 200.7,164.3 201.6,165 201.8,165.1 202.5,166.6 202.9,168.6 203.4,167.7 204.1,169.7 204.3,168.9 205.2,166 205.3,166.8 206.1,167 206.4,165.7 207,165.9 207.6,166.2 207.9,167.1 208.7,167.4 208.8,167.7 209.7,170.5 209.9,169.1 210.6,170.8 211.1,171.5 211.5,172.2 212.2,173.2 212.4,173 213.3,171.8 213.4,172 214.2,172.9 214.5,173.8 215.1,175 215.7,175 216,174.8 216.9,175.5 216.9,176 217.8,177 218,177.9 218.7,181.5 219.2,181.3 219.6,185.9 220.1,188.3 220.5,187 221.3,182.5 221.4,181.1 222.3,176.8 222.4,176.7 223.2,179.1 223.6,180.2 224.1,182.5 225,181.4 225,181.9 225.7,182.4 225.9,183.1 226.4,183.1 226.7,183.1 226.8,182.2 227.7,183.6 227.7,185.2 228.6,185.3 229.1,185.8 229.5,185.1 230.4,185.7 230.4,185.2 231.3,184.2 231.8,183.8 232.2,183.4 233.1,183.2 233.1,183.1 234,184.4 234.5,185.8 234.9,185.6 235.8,186.5 235.8,187.9 236.7,189.6 237.2,189.9 237.6,191.1 238.3,195.3 238.5,197.6 239.2,203.4 239.4,204.3 240.2,200.7 240.3,199.2 241.2,200 241.2,199.4 242.1,200.7 242.6,201.4 243,201.9 243.9,203 244,202.8 244.8,203 245.3,203.4 245.7,204.6 246.6,204 246.7,204.1 247.5,204.6 248,205.5 248.4,205.9 249.3,204.8 249.4,206.1 250.2,207.5 250.7,207.5 251.1,208.2 252,205.3 252.1,205.5 252.9,210.1 253.2,211.6 253.8,215.6 254.1,217 254.7,220.9 255.1,223.7 255.6,222.7 256.1,225.1 256.5,222.7 257.2,221.7 257.4,222.2 258.2,218.3 258.3,218.3 259.1,219.7 259.2,220.4 259.9,223.7 260.1,223.3 260.9,219.7 261,219.7 261.8,215.6 261.9,216.9 262.8,216.3 263.2,213.6 263.7,213.9 264.5,212.9 264.6,212.6 265.5,214.2 265.9,213.6 266.4,214.8 267.2,214.9 267.3,215.5 268.2,217.5 268.6,218.3 269.1,216.9 269.9,217 270,217.2 270.9,218.7 271.3,218.3 271.8,219.3 272.7,221.7 272.7,220.2 273.6,220.6 274,220.4 274.5,222.7 275.4,222.4 275.4,223.6 276.3,222.8 276.7,223.7 277.2,227 277.8,231.2 278.1,230.9 278.9,225.8 279,226.8 279.9,222.6 280,222.4 280.8,221.4 281.4,219.7 281.7,218.9 282.6,215.9 282.7,215.6 283.5,218.4 283.8,219.7 284.4,225.7 284.7,229.2 285.3,231.2 286.1,234.6 286.2,233.7 287,231.9 287.1,230.1 288,227.1 288.1,226.4 288.9,223.9 289.5,222.4 289.8,223.2 290.7,219.1 290.8,219.7 291.6,218.9 292.2,218.3 292.5,218.1 293.4,216.7 293.5,217 294.3,217.9 294.9,215.6 295.2,214.2 296.1,212 296.2,211.6 297,210.9 297.6,207.5 297.9,207.5 298.8,205.1 299,206.8 299.7,206.9 300.3,209.5 300.6,210.4 301.4,215.6 301.5,216.3 302.3,218.3 302.4,217.5 303.3,216.2 303.7,214.3 304.2,213.2 305,211.6 305.1,211.7 306,209.8 306.4,208.8 306.9,208.6 307.8,208.2 307.8,208.5 308.7,208.2 309.1,207.5 309.6,206.4 310.5,206.8 310.5,206.7 311.4,206.6 311.8,206.1 312.3,206.3 313.2,205.5 313.2,206.5 314.1,203.1 314.5,204.1 315,203.5 315.9,202 315.9,202.8 316.8,203.5 317.2,201.4 317.7,201.7 318.6,201.6 318.6,202.1 319.5,203.6 319.9,203.4 320.4,201.8 321.3,200.4 321.3,200 322.2,199.3 322.6,198.7 323.1,197.2 324,197.9 324,197.3 324.9,198.3 325.4,196.7 325.8,195.4 326.7,193.2 326.7,193.3 327.6,189.3 327.7,188.5 328.5,184.2 328.7,183.1 329.4,183 330.1,180.4 330.3,179.5 331.2,179.1 331.2,178.2 332.1,182.1 332.1,182.4 332.8,187.9 333,188.1 333.5,191.9 333.9,191 334.4,187.9 334.8,187.9 335.5,185.8 335.7,185 336.2,187.9"/>
<g fill="#a3160c"><circle cx="65.4" cy="188.3" r="1.9"/><circle cx="66.5" cy="195.6" r="1.9"/><circle cx="67.4" cy="202.3" r="1.9"/><circle cx="70.6" cy="194.6" r="1.9"/><circle cx="73.5" cy="200" r="1.9"/><circle cx="75.2" cy="199.4" r="1.9"/><circle cx="76" cy="210.5" r="1.9"/><circle cx="77.6" cy="212.9" r="1.9"/><circle cx="79.6" cy="198.7" r="1.9"/><circle cx="80.3" cy="208.8" r="1.9"/><circle cx="81.4" cy="213.6" r="1.9"/><circle cx="82.3" cy="203.4" r="1.9"/><circle cx="85" cy="204.1" r="1.9"/><circle cx="86.4" cy="214.9" r="1.9"/><circle cx="87.8" cy="222.4" r="1.9"/><circle cx="89.1" cy="218.3" r="1.9"/><circle cx="89.8" cy="228.5" r="1.9"/><circle cx="92.2" cy="204.8" r="1.9"/><circle cx="91.8" cy="211.6" r="1.9"/><circle cx="93.2" cy="214.3" r="1.9"/><circle cx="93.8" cy="221" r="1.9"/><circle cx="95.2" cy="223.1" r="1.9"/><circle cx="96.6" cy="232.5" r="1.9"/><circle cx="99.3" cy="213.6" r="1.9"/><circle cx="97.9" cy="224.4" r="1.9"/><circle cx="100.6" cy="221" r="1.9"/><circle cx="102.6" cy="226.4" r="1.9"/><circle cx="104.7" cy="218.3" r="1.9"/><circle cx="106" cy="227.8" r="1.9"/><circle cx="106.7" cy="231.9" r="1.9"/><circle cx="108.7" cy="223.1" r="1.9"/><circle cx="110.8" cy="214.9" r="1.9"/><circle cx="111.4" cy="225.1" r="1.9"/><circle cx="113.5" cy="221.7" r="1.9"/><circle cx="115.2" cy="211.6" r="1.9"/><circle cx="115.5" cy="218.3" r="1.9"/><circle cx="116.9" cy="223.7" r="1.9"/><circle cx="119.6" cy="221.7" r="1.9"/><circle cx="121.6" cy="218.3" r="1.9"/><circle cx="123.6" cy="222.4" r="1.9"/><circle cx="125.7" cy="228.5" r="1.9"/><circle cx="127.7" cy="221" r="1.9"/><circle cx="103.3" cy="221" r="1.9"/><circle cx="107.4" cy="221" r="1.9"/><circle cx="112.1" cy="221" r="1.9"/><circle cx="118.2" cy="219.7" r="1.9"/><circle cx="123" cy="218.3" r="1.9"/><circle cx="125.7" cy="228.5" r="1.9"/><circle cx="127" cy="219" r="1.9"/><circle cx="128.4" cy="222.4" r="1.9"/><circle cx="129.7" cy="218.3" r="1.9"/><circle cx="131.8" cy="212.2" r="1.9"/><circle cx="132.4" cy="215.6" r="1.9"/><circle cx="134.5" cy="218.3" r="1.9"/><circle cx="136.5" cy="219" r="1.9"/><circle cx="138.5" cy="223.1" r="1.9"/><circle cx="140.6" cy="215.6" r="1.9"/><circle cx="141.9" cy="214.9" r="1.9"/><circle cx="143.3" cy="208.8" r="1.9"/><circle cx="144" cy="204.8" r="1.9"/><circle cx="146" cy="203.4" r="1.9"/><circle cx="148" cy="215.6" r="1.9"/><circle cx="149.4" cy="219" r="1.9"/><circle cx="150.7" cy="208.8" r="1.9"/><circle cx="152.1" cy="198" r="1.9"/><circle cx="154.1" cy="200.7" r="1.9"/><circle cx="153.4" cy="189.9" r="1.9"/><circle cx="155.5" cy="196.7" r="1.9"/><circle cx="157.5" cy="192.6" r="1.9"/><circle cx="156.1" cy="189.9" r="1.9"/><circle cx="160.9" cy="185.8" r="1.9"/><circle cx="163.6" cy="183.1" r="1.9"/><circle cx="165.6" cy="184.5" r="1.9"/><circle cx="160.9" cy="185.4" r="1.9"/><circle cx="162.9" cy="181.9" r="1.9"/><circle cx="166" cy="184.2" r="1.9"/><circle cx="168.4" cy="177.9" r="1.9"/><circle cx="171.6" cy="173.8" r="1.9"/><circle cx="174.5" cy="170.7" r="1.9"/><circle cx="178" cy="166.8" r="1.9"/><circle cx="181.8" cy="181.3" r="1.9"/><circle cx="183.2" cy="170.7" r="1.9"/><circle cx="185.5" cy="168.6" r="1.9"/><circle cx="187.3" cy="179.6" r="1.9"/><circle cx="190.2" cy="170.9" r="1.9"/><circle cx="193.1" cy="171.5" r="1.9"/><circle cx="196" cy="166.2" r="1.9"/><circle cx="197.7" cy="176.1" r="1.9"/><circle cx="200" cy="170.9" r="1.9"/><circle cx="201.8" cy="168.6" r="1.9"/><circle cx="203.9" cy="173.2" r="1.9"/><circle cx="205.3" cy="167.4" r="1.9"/><circle cx="207.6" cy="166.8" r="1.9"/><circle cx="210.5" cy="173.8" r="1.9"/><circle cx="212.2" cy="175.5" r="1.9"/><circle cx="214.5" cy="175" r="1.9"/><circle cx="216.9" cy="180.2" r="1.9"/><circle cx="218.6" cy="172.6" r="1.9"/><circle cx="219.2" cy="183.7" r="1.9"/><circle cx="220.3" cy="193.5" r="1.9"/><circle cx="222.7" cy="181.3" r="1.9"/><circle cx="225.6" cy="181.3" r="1.9"/><circle cx="227.3" cy="186" r="1.9"/><circle cx="227.7" cy="188.5" r="1.9"/><circle cx="228.4" cy="190.6" r="1.9"/><circle cx="229.7" cy="187.2" r="1.9"/><circle cx="232.4" cy="187.2" r="1.9"/><circle cx="235.2" cy="187.2" r="1.9"/><circle cx="237.9" cy="190.6" r="1.9"/><circle cx="238.3" cy="199.4" r="1.9"/><circle cx="238.8" cy="210.2" r="1.9"/><circle cx="239.6" cy="217.6" r="1.9"/><circle cx="240.2" cy="206.8" r="1.9"/><circle cx="241.9" cy="199.4" r="1.9"/><circle cx="244.6" cy="203.4" r="1.9"/><circle cx="245.3" cy="198.7" r="1.9"/><circle cx="247.3" cy="204.1" r="1.9"/><circle cx="250" cy="205.5" r="1.9"/><circle cx="250.7" cy="199.1" r="1.9"/><circle cx="251.4" cy="208.8" r="1.9"/><circle cx="249.6" cy="214.3" r="1.9"/><circle cx="253.4" cy="215.6" r="1.9"/><circle cx="252.8" cy="226.4" r="1.9"/><circle cx="255.5" cy="222.4" r="1.9"/><circle cx="258.8" cy="203.4" r="1.9"/><circle cx="258.6" cy="211.6" r="1.9"/><circle cx="259.5" cy="215.6" r="1.9"/><circle cx="260.9" cy="221" r="1.9"/><circle cx="264.3" cy="214.9" r="1.9"/><circle cx="266.3" cy="214.3" r="1.9"/><circle cx="268.3" cy="222.4" r="1.9"/><circle cx="269.7" cy="212.9" r="1.9"/><circle cx="271.7" cy="217.6" r="1.9"/><circle cx="273.1" cy="223.7" r="1.9"/><circle cx="274.4" cy="226.4" r="1.9"/><circle cx="277.1" cy="221" r="1.9"/><circle cx="278.5" cy="224.4" r="1.9"/><circle cx="280.5" cy="219.7" r="1.9"/><circle cx="280.7" cy="219.7" r="1.9"/><circle cx="282.4" cy="215.6" r="1.9"/><circle cx="284.1" cy="223.1" r="1.9"/><circle cx="285.4" cy="222.4" r="1.9"/><circle cx="286.8" cy="223.1" r="1.9"/><circle cx="284.1" cy="233.2" r="1.9"/><circle cx="285.7" cy="232.5" r="1.9"/><circle cx="284.7" cy="238" r="1.9"/><circle cx="289.5" cy="219.7" r="1.9"/><circle cx="290.8" cy="222.4" r="1.9"/><circle cx="292.2" cy="223.1" r="1.9"/><circle cx="293.5" cy="218.3" r="1.9"/><circle cx="294.2" cy="215.6" r="1.9"/><circle cx="296.2" cy="216.3" r="1.9"/><circle cx="297.3" cy="206.1" r="1.9"/><circle cx="300.3" cy="210.2" r="1.9"/><circle cx="301" cy="220.4" r="1.9"/><circle cx="302.1" cy="227.8" r="1.9"/><circle cx="303" cy="219.7" r="1.9"/><circle cx="305.7" cy="217" r="1.9"/><circle cx="309.1" cy="212.9" r="1.9"/><circle cx="310.5" cy="210.2" r="1.9"/><circle cx="311.8" cy="214.3" r="1.9"/><circle cx="313.8" cy="208.2" r="1.9"/><circle cx="315.5" cy="211.6" r="1.9"/><circle cx="317.2" cy="214.3" r="1.9"/><circle cx="318.6" cy="216.3" r="1.9"/><circle cx="316.6" cy="203.4" r="1.9"/><circle cx="320.3" cy="207.5" r="1.9"/><circle cx="323.1" cy="198" r="1.9"/><circle cx="326" cy="200.7" r="1.9"/><circle cx="327.4" cy="191.2" r="1.9"/><circle cx="329" cy="185.2" r="1.9"/><circle cx="331.2" cy="183.1" r="1.9"/><circle cx="332.1" cy="192.6" r="1.9"/><circle cx="332.8" cy="204.1" r="1.9"/><circle cx="334.4" cy="195.3" r="1.9"/></g>
<g fill="#a3160c"><circle cx="64.2" cy="314.6" r="1.9"/><circle cx="68.5" cy="321.9" r="1.9"/><circle cx="71.7" cy="325" r="1.9"/><circle cx="75" cy="323.5" r="1.9"/><circle cx="79" cy="325.4" r="1.9"/><circle cx="82.5" cy="325.8" r="1.9"/><circle cx="85.9" cy="334.6" r="1.9"/><circle cx="89.5" cy="334.2" r="1.9"/><circle cx="92.8" cy="336.4" r="1.9"/><circle cx="95.8" cy="345.7" r="1.9"/><circle cx="100" cy="345.1" r="1.9"/><circle cx="103.5" cy="343.2" r="1.9"/><circle cx="106.5" cy="339.2" r="1.9"/><circle cx="110.1" cy="342.7" r="1.9"/><circle cx="113.9" cy="337.8" r="1.9"/><circle cx="117.5" cy="340.3" r="1.9"/><circle cx="120.6" cy="342.6" r="1.9"/><circle cx="123.9" cy="341.7" r="1.9"/><circle cx="127.9" cy="341.3" r="1.9"/><circle cx="131.1" cy="339.4" r="1.9"/><circle cx="135" cy="338.4" r="1.9"/><circle cx="138.1" cy="335.2" r="1.9"/><circle cx="141.4" cy="328.8" r="1.9"/><circle cx="145.6" cy="325.9" r="1.9"/><circle cx="148.5" cy="328.3" r="1.9"/><circle cx="151.8" cy="318.1" r="1.9"/><circle cx="155.9" cy="315.8" r="1.9"/><circle cx="159.4" cy="309" r="1.9"/><circle cx="163" cy="304.2" r="1.9"/><circle cx="166.1" cy="295.8" r="1.9"/><circle cx="170.1" cy="292.9" r="1.9"/><circle cx="172.8" cy="292" r="1.9"/><circle cx="176.9" cy="298.6" r="1.9"/><circle cx="180.6" cy="292.1" r="1.9"/><circle cx="183.8" cy="293.5" r="1.9"/><circle cx="187" cy="291.8" r="1.9"/><circle cx="190.2" cy="287.3" r="1.9"/><circle cx="194" cy="294.6" r="1.9"/><circle cx="198" cy="288.6" r="1.9"/><circle cx="200.8" cy="289" r="1.9"/><circle cx="204.9" cy="288.1" r="1.9"/><circle cx="208.2" cy="295.9" r="1.9"/><circle cx="211.4" cy="295.2" r="1.9"/><circle cx="215.4" cy="298.5" r="1.9"/><circle cx="218.7" cy="297.1" r="1.9"/><circle cx="222.7" cy="305.2" r="1.9"/><circle cx="226.2" cy="305.5" r="1.9"/><circle cx="229.4" cy="304.7" r="1.9"/><circle cx="232.8" cy="310.8" r="1.9"/><circle cx="236.1" cy="321" r="1.9"/><circle cx="239.6" cy="322.6" r="1.9"/><circle cx="242.9" cy="321" r="1.9"/><circle cx="247.2" cy="323.4" r="1.9"/><circle cx="250" cy="329.6" r="1.9"/><circle cx="253.8" cy="331.9" r="1.9"/><circle cx="257.2" cy="335.7" r="1.9"/><circle cx="260.8" cy="335.2" r="1.9"/><circle cx="263.7" cy="333.8" r="1.9"/><circle cx="267.4" cy="337.7" r="1.9"/><circle cx="271.4" cy="334.3" r="1.9"/><circle cx="274.3" cy="340.9" r="1.9"/><circle cx="278.3" cy="334.1" r="1.9"/><circle cx="281.5" cy="341" r="1.9"/><circle cx="285.6" cy="343.2" r="1.9"/><circle cx="288.5" cy="342.4" r="1.9"/><circle cx="292.2" cy="335.1" r="1.9"/><circle cx="295.8" cy="330" r="1.9"/><circle cx="298.8" cy="331.9" r="1.9"/><circle cx="303" cy="335" r="1.9"/><circle cx="305.9" cy="329.1" r="1.9"/><circle cx="310" cy="327.8" r="1.9"/><circle cx="313" cy="331.5" r="1.9"/><circle cx="316.9" cy="326.8" r="1.9"/><circle cx="320" cy="328.9" r="1.9"/><circle cx="324.1" cy="318.7" r="1.9"/><circle cx="327.3" cy="313.2" r="1.9"/><circle cx="330.4" cy="311.2" r="1.9"/></g>
<polyline fill="none" stroke="#000" stroke-width="2" stroke-linejoin="round" points="61.8,299.3 61.8,300.4 62.7,302.3 63.1,301.8 63.6,302.5 64.1,305.2 64.5,307.9 65,309.9 65.4,310.4 66.1,314.6 66.3,314.3 67.2,317.1 67.2,316.7 68.1,315.9 68.6,315.3 69,314.7 69.5,312.6 69.9,313 70.8,314.4 70.9,314.6 71.7,315.9 72.2,316.7 72.6,317.1 73.5,317.2 73.6,317.3 74.4,319.9 74.5,321.4 75.3,324.7 75.6,325.5 76.2,324.6 77,322.8 77.1,322.7 78,325.4 78.3,326.1 78.9,324.7 79.7,324.1 79.8,324.8 80.7,325.7 81,326.8 81.6,325.7 82.4,324.8 82.5,324.9 83.4,326.9 83.7,327.5 84.3,329.1 84.8,330.2 85.2,331 86.1,331.5 86.2,332.2 87,334.7 87.5,334.3 87.9,333 88.8,333.6 88.9,332.9 89.7,331.5 90.2,331.6 90.6,332.4 91.5,331.6 91.6,332.9 92.4,335.2 92.7,335.6 93.3,339.2 93.9,342.4 94.2,341.6 95.1,341.8 95.2,341.7 96,339.8 96.6,339.7 96.9,340 97.8,337 97.9,337 98.7,339.5 99.3,340.4 99.6,340.9 100.5,341.6 100.6,342.4 101.4,341.6 102,341.7 102.3,341.7 103.2,341.6 103.4,340.4 104.1,341.7 104.7,344.4 105,344.6 105.9,343.7 106.1,342.4 106.8,341.9 107.4,339.7 107.7,338.9 108.6,337.2 108.8,337.6 109.5,337.4 110.1,338.3 110.4,338.7 111.3,339.2 111.5,339.7 112.2,338.8 112.8,338.3 113.1,338.6 114,335.5 114.2,337 114.9,338 115.5,338.3 115.8,337.9 116.7,339.2 116.9,339 117.6,339.5 118.2,339.7 118.5,339.6 119.4,341.4 119.6,340.4 120.3,340.6 121,339.7 121.2,341.1 122.1,340.8 122.3,341 123,340.9 123.7,340.4 123.9,340.8 124.8,337.9 125,338.3 125.7,337.6 126.6,337 127.1,337 127.5,334.5 128.4,334.4 129.1,332.2 129.3,332.2 130.2,332.9 130.9,334.3 131.1,333.7 132,334.3 132.5,334.9 132.9,336 133.8,335.1 134.5,335.6 134.7,336.6 135.6,335.8 136.5,335.8 136.5,336.3 137.4,335 138.2,334.9 138.3,334.6 139.2,332.9 139.9,330.9 140.1,330.7 141,328.1 141.3,326.8 141.9,324.6 142.6,322.1 142.8,321.5 143.7,320.5 144,320 144.6,321.3 145.3,324.8 145.5,324.1 146.4,327.3 147.1,327.5 147.3,325.7 148.2,327.1 148.7,326.8 149.1,325.7 150,324 150.1,323.4 150.9,320.3 151.4,319.4 151.8,318.7 152.7,317.4 152.8,316.7 153.6,316.3 154.1,315.3 154.5,316.3 155.4,313.8 155.5,313.3 156.3,313.7 156.8,315.3 157.2,315.5 157.9,318 158.1,317.8 158.9,311.2 159,310.4 159.9,307.6 160.2,307.2 160.8,304.2 161.5,300.2 161.7,300.1 162.6,298.2 162.6,298.4 163.5,295.8 163.8,297.3 164.4,297.7 165,296.1 165.3,294.5 166.1,293.8 166.2,294.2 167.1,292.7 167.3,292 168,292.1 168.4,290.9 168.9,291.2 169.6,292.6 169.8,290.7 170.7,289.8 170.8,290.3 171.6,289.1 171.9,288.6 172.5,288 173.1,287.4 173.4,285.4 174.2,285.7 174.3,285.4 175.2,286.7 175.4,286.8 176.1,285.3 176.6,286.2 177,286.9 177.7,285.7 177.9,285.1 178.8,287 178.9,288 179.7,291.9 179.8,292 180.6,288.6 180.6,288.6 181.5,288.1 181.8,287.4 182.4,288.6 183,288 183.3,287.2 184.1,288.6 184.2,288.7 185.1,289.2 185.3,289.7 186,289.7 186.4,290.3 186.9,290.3 187.6,289.1 187.8,288.6 188.7,290.7 188.8,289.7 189.6,290.2 189.9,290.9 190.5,291.2 191.1,290.3 191.4,288.9 192.2,285.7 192.3,285.1 193.2,282.3 193.4,282.8 194.1,281.2 194.6,281 195,281.8 195.4,281.6 195.9,284.1 196.3,287.4 196.8,287.9 197.5,288 197.7,288.8 198.6,287.7 198.6,286.8 199.5,286.3 199.8,286.2 200.4,286.8 200.9,285.7 201.3,286.6 202.1,288.6 202.2,289.3 203.1,289.1 203.3,289.7 204,288.8 204.4,288.6 204.9,287.5 205.6,286.8 205.8,287.1 206.7,288.2 206.7,288 207.6,290.4 207.9,289.7 208.5,289.3 209.1,291.5 209.4,291.8 210.2,292 210.3,291.8 211.2,292.6 211.4,293.2 212.1,293.2 212.5,293.8 213,294.6 213.7,294.4 213.9,295 214.8,294.1 214.9,295 215.7,293.8 216,294.4 216.6,295.4 217.2,297.3 217.5,300.5 218.1,303.7 218.4,304 219.3,304.8 219.3,304.4 220.2,299.2 220.7,297.9 221.1,299.2 221.8,299.6 222,299.8 222.9,300.9 223,300.8 223.8,301.1 224.1,301.3 224.7,302 225,302.4 225.6,303 226.4,303.8 226.5,304.1 227.4,303.5 227.7,304.5 228.3,302.9 229.1,303.1 229.2,303.1 230.1,302.3 230.4,302.4 231,302.5 231.8,303.8 231.9,303.9 232.8,305.2 233.2,305.2 233.7,307 234.5,306.5 234.6,307.5 235.5,308.2 235.9,308.5 236.4,311.8 236.8,314 237.3,318.2 237.9,322.1 238.2,322.3 239,320 239.1,320 240,319.1 240.3,318 240.9,318.4 241.7,319.4 241.8,319.5 242.7,320 243,320.7 243.6,321.8 244.4,321.4 244.5,321.3 245.4,322 245.7,322.1 246.3,323 247.1,323.4 247.2,323.8 248.1,323.9 248.5,322.8 249,321.3 249.8,322.1 249.9,321.8 250.8,326.8 250.8,326.6 251.7,330.6 251.7,331.6 252.6,335.4 252.8,335.6 253.5,339.1 253.9,340.4 254.4,338.7 254.8,338.3 255.3,336.8 255.8,334.3 256.2,334.8 256.8,337 257.1,338.2 257.9,339 258,338 258.9,335.6 258.9,336.3 259.8,333.8 260.2,334.3 260.7,335.1 261.6,334.9 261.6,335.4 262.5,334.2 262.9,333.6 263.4,335.9 264.3,334.9 264.3,335.6 265.2,337.8 265.6,337 266.1,336.5 267,337.5 267,336.3 267.9,338.1 268.4,337.6 268.8,338.7 269.7,338 269.7,339 270.6,338.5 271.1,339.7 271.5,339 272.4,337 272.4,337.6 273.3,338.2 273.8,338.3 274.2,338 275.1,341.7 275.1,342.4 276,344.5 276.5,347.1 276.9,345.7 277.8,343 277.8,342.4 278.7,341.2 279.5,339.2 279.6,340.3 280.5,335.2 280.8,334.5 281.4,337.6 281.9,338.4 282.3,342.5 283,346.9 283.2,349.3 284.1,352.7 284.2,353.1 285,352 285.4,350 285.9,348.2 286.5,343.8 286.8,342.6 287.7,340.6 288.1,339.2 288.6,338.4 289.5,338.4 289.6,338.4 290.4,338.3 291.2,337.6 291.3,337.6 292.2,337.7 292.7,336.8 293.1,335.6 294,335.2 294.2,334.5 294.9,332.6 295.8,330 295.8,329.9 296.7,327.5 297.3,326.8 297.6,326.2 298.4,329.1 298.5,327.9 299.4,333.9 299.7,334.5 300.3,333.9 301.2,333.8 301.2,334.5 302.1,332.1 302.8,331.4 303,330.9 303.9,330.2 304.3,329.9 304.8,329.2 305.7,328.3 305.9,328.3 306.6,328.3 307.4,326.8 307.5,328.3 308.4,326.5 308.9,326.8 309.3,326.7 310.2,325.8 310.5,326 311.1,325.7 312,324.4 312,325.2 312.9,324.4 313.6,324.5 313.8,323.6 314.7,322.7 315.1,322.1 315.6,322.7 315.9,320.6 316.5,323.5 316.7,324.5 317.4,323.2 317.9,323.7 318.3,322.6 319,320.6 319.2,319.8 320.1,318.6 320.6,318.3 321,316.8 321.9,317.1 322.1,316.7 322.8,316.2 323.6,315.2 323.7,314.5 324.6,313.2 325.2,311.3 325.5,311.6 326.4,307.2 326.7,306.7 327.3,305.6 328.2,304.2 328.3,302.8 329.1,301.6 329.4,300.5 330,302.6 330.3,303.6 330.9,305 331.4,306.7 331.8,307.7 332.5,309.8 332.7,309.9 333.4,308.2"/>
<g fill="#a3160c"><circle cx="63.7" cy="308.8" r="1.9"/><circle cx="65.4" cy="318.3" r="1.9"/><circle cx="68.2" cy="316" r="1.9"/><circle cx="71.5" cy="318.7" r="1.9"/><circle cx="74" cy="329.9" r="1.9"/><circle cx="75.6" cy="330.2" r="1.9"/><circle cx="77.6" cy="318.7" r="1.9"/><circle cx="78.3" cy="323.4" r="1.9"/><circle cx="79.9" cy="329.9" r="1.9"/><circle cx="81" cy="319.4" r="1.9"/><circle cx="82.1" cy="325.5" r="1.9"/><circle cx="84.4" cy="324.8" r="1.9"/><circle cx="85.1" cy="334.9" r="1.9"/><circle cx="86.2" cy="338.3" r="1.9"/><circle cx="87.1" cy="336.3" r="1.9"/><circle cx="88.1" cy="346.2" r="1.9"/><circle cx="90.5" cy="328.8" r="1.9"/><circle cx="91.2" cy="328.2" r="1.9"/><circle cx="92.1" cy="334.3" r="1.9"/><circle cx="92.5" cy="339" r="1.9"/><circle cx="94.6" cy="343.7" r="1.9"/><circle cx="95.2" cy="349.8" r="1.9"/><circle cx="97.5" cy="334.5" r="1.9"/><circle cx="100" cy="345.1" r="1.9"/><circle cx="100.6" cy="349.2" r="1.9"/><circle cx="102.7" cy="339.7" r="1.9"/><circle cx="104" cy="342.4" r="1.9"/><circle cx="104.7" cy="349.8" r="1.9"/><circle cx="106.1" cy="336.3" r="1.9"/><circle cx="106.7" cy="347.1" r="1.9"/><circle cx="108.8" cy="341.7" r="1.9"/><circle cx="109.4" cy="347.1" r="1.9"/><circle cx="111.1" cy="336.3" r="1.9"/><circle cx="112.8" cy="347.1" r="1.9"/><circle cx="113.5" cy="340.4" r="1.9"/><circle cx="114.9" cy="334.3" r="1.9"/><circle cx="117.6" cy="339.7" r="1.9"/><circle cx="121" cy="334.9" r="1.9"/><circle cx="121.6" cy="341.7" r="1.9"/><circle cx="123.7" cy="342.4" r="1.9"/><circle cx="102.7" cy="345.8" r="1.9"/><circle cx="106.7" cy="340.4" r="1.9"/><circle cx="111.5" cy="338.3" r="1.9"/><circle cx="119.6" cy="339.7" r="1.9"/><circle cx="124.4" cy="341.7" r="1.9"/><circle cx="125.7" cy="343.1" r="1.9"/><circle cx="127.3" cy="346.7" r="1.9"/><circle cx="126.4" cy="335.6" r="1.9"/><circle cx="128.4" cy="332.9" r="1.9"/><circle cx="131.8" cy="334.3" r="1.9"/><circle cx="134.5" cy="341" r="1.9"/><circle cx="135.9" cy="338.3" r="1.9"/><circle cx="137.9" cy="345.1" r="1.9"/><circle cx="139.2" cy="334.9" r="1.9"/><circle cx="140.3" cy="330.2" r="1.9"/><circle cx="141.7" cy="320.7" r="1.9"/><circle cx="143.3" cy="323.4" r="1.9"/><circle cx="144.4" cy="320" r="1.9"/><circle cx="145.7" cy="330.2" r="1.9"/><circle cx="146.7" cy="340.6" r="1.9"/><circle cx="147.6" cy="333.6" r="1.9"/><circle cx="150.1" cy="326.1" r="1.9"/><circle cx="150.8" cy="314.6" r="1.9"/><circle cx="152.1" cy="318" r="1.9"/><circle cx="153.9" cy="316.7" r="1.9"/><circle cx="155.5" cy="315.3" r="1.9"/><circle cx="159.3" cy="307.9" r="1.9"/><circle cx="158.6" cy="308.3" r="1.9"/><circle cx="159.7" cy="307.7" r="1.9"/><circle cx="162.1" cy="303.1" r="1.9"/><circle cx="165" cy="303.1" r="1.9"/><circle cx="168.4" cy="294.4" r="1.9"/><circle cx="171.9" cy="291.5" r="1.9"/><circle cx="173.7" cy="296.1" r="1.9"/><circle cx="177.1" cy="286.8" r="1.9"/><circle cx="180.6" cy="297.3" r="1.9"/><circle cx="182.4" cy="293.2" r="1.9"/><circle cx="184.7" cy="295.5" r="1.9"/><circle cx="186.4" cy="292.6" r="1.9"/><circle cx="188.8" cy="290.3" r="1.9"/><circle cx="191.7" cy="293.2" r="1.9"/><circle cx="194" cy="288" r="1.9"/><circle cx="196.9" cy="295.5" r="1.9"/><circle cx="199.2" cy="288.6" r="1.9"/><circle cx="200.9" cy="288" r="1.9"/><circle cx="202.7" cy="292" r="1.9"/><circle cx="205.6" cy="287.4" r="1.9"/><circle cx="208.5" cy="295.5" r="1.9"/><circle cx="210.8" cy="295.5" r="1.9"/><circle cx="212.5" cy="295.5" r="1.9"/><circle cx="214.9" cy="296.1" r="1.9"/><circle cx="216.6" cy="293.2" r="1.9"/><circle cx="217.2" cy="304.2" r="1.9"/><circle cx="218.3" cy="314.3" r="1.9"/><circle cx="219.5" cy="303.7" r="1.9"/><circle cx="221.2" cy="297.3" r="1.9"/><circle cx="223.6" cy="300.2" r="1.9"/><circle cx="225.4" cy="305.8" r="1.9"/><circle cx="227.7" cy="309.2" r="1.9"/><circle cx="231.1" cy="305.2" r="1.9"/><circle cx="234.5" cy="309.9" r="1.9"/><circle cx="235.9" cy="313.3" r="1.9"/><circle cx="236.5" cy="324.1" r="1.9"/><circle cx="238.2" cy="326.1" r="1.9"/><circle cx="237.6" cy="335.3" r="1.9"/><circle cx="239" cy="315.3" r="1.9"/><circle cx="240.6" cy="318.7" r="1.9"/><circle cx="242.6" cy="321.4" r="1.9"/><circle cx="244" cy="318" r="1.9"/><circle cx="246.7" cy="321.4" r="1.9"/><circle cx="248" cy="325.5" r="1.9"/><circle cx="248.7" cy="332.2" r="1.9"/><circle cx="250.1" cy="320" r="1.9"/><circle cx="250.8" cy="331.6" r="1.9"/><circle cx="251.4" cy="341.7" r="1.9"/><circle cx="253.5" cy="341" r="1.9"/><circle cx="256.2" cy="339.7" r="1.9"/><circle cx="257.1" cy="322.1" r="1.9"/><circle cx="257.5" cy="328.6" r="1.9"/><circle cx="258.2" cy="334.3" r="1.9"/><circle cx="260.2" cy="336.3" r="1.9"/><circle cx="262.9" cy="337" r="1.9"/><circle cx="264.3" cy="333.6" r="1.9"/><circle cx="267.7" cy="330.2" r="1.9"/><circle cx="267.7" cy="341" r="1.9"/><circle cx="269.7" cy="338.3" r="1.9"/><circle cx="271.1" cy="343.1" r="1.9"/><circle cx="273.8" cy="335.6" r="1.9"/><circle cx="275.1" cy="338.3" r="1.9"/><circle cx="277.2" cy="341" r="1.9"/><circle cx="279.2" cy="335.6" r="1.9"/><circle cx="278.8" cy="339.2" r="1.9"/><circle cx="279.9" cy="336.8" r="1.9"/><circle cx="281.1" cy="333" r="1.9"/><circle cx="281.9" cy="340.7" r="1.9"/><circle cx="282.6" cy="353.1" r="1.9"/><circle cx="284.2" cy="351.5" r="1.9"/><circle cx="285" cy="341.5" r="1.9"/><circle cx="288.1" cy="339.2" r="1.9"/><circle cx="291.2" cy="342.3" r="1.9"/><circle cx="292.7" cy="334.5" r="1.9"/><circle cx="295" cy="329.1" r="1.9"/><circle cx="296.6" cy="326" r="1.9"/><circle cx="298.9" cy="329.9" r="1.9"/><circle cx="299.4" cy="339.9" r="1.9"/><circle cx="300.4" cy="345.3" r="1.9"/><circle cx="302" cy="334.5" r="1.9"/><circle cx="305.1" cy="330.6" r="1.9"/><circle cx="307.4" cy="326.8" r="1.9"/><circle cx="310.5" cy="333" r="1.9"/><circle cx="312" cy="329.9" r="1.9"/><circle cx="313.9" cy="328.3" r="1.9"/><circle cx="316.7" cy="336.1" r="1.9"/><circle cx="317.5" cy="327.6" r="1.9"/><circle cx="319" cy="326.8" r="1.9"/><circle cx="320.6" cy="318.3" r="1.9"/><circle cx="324.1" cy="320.6" r="1.9"/><circle cx="325.7" cy="311.3" r="1.9"/><circle cx="327.8" cy="305.1" r="1.9"/><circle cx="329.4" cy="305.1" r="1.9"/><circle cx="330.6" cy="318.3" r="1.9"/><circle cx="332.2" cy="315.2" r="1.9"/></g>
<g fill="#a3160c"><circle cx="66" cy="421.7" r="1.9"/><circle cx="69.7" cy="421.2" r="1.9"/><circle cx="73.8" cy="428" r="1.9"/><circle cx="76.7" cy="431" r="1.9"/><circle cx="80.8" cy="431.8" r="1.9"/><circle cx="83.7" cy="436" r="1.9"/><circle cx="87.3" cy="441" r="1.9"/><circle cx="91.1" cy="439.5" r="1.9"/><circle cx="94" cy="443.8" r="1.9"/><circle cx="98.3" cy="446.4" r="1.9"/><circle cx="101.4" cy="449.2" r="1.9"/><circle cx="105" cy="444.6" r="1.9"/><circle cx="108" cy="446.1" r="1.9"/><circle cx="111.6" cy="448.5" r="1.9"/><circle cx="115.2" cy="449.5" r="1.9"/><circle cx="119" cy="444.7" r="1.9"/><circle cx="122" cy="445.3" r="1.9"/><circle cx="126.1" cy="446.2" r="1.9"/><circle cx="129.2" cy="441.4" r="1.9"/><circle cx="133.1" cy="443.7" r="1.9"/><circle cx="136.7" cy="446.2" r="1.9"/><circle cx="139.7" cy="440.5" r="1.9"/><circle cx="143.6" cy="432.4" r="1.9"/><circle cx="147" cy="434.2" r="1.9"/><circle cx="150.4" cy="437.1" r="1.9"/><circle cx="153.5" cy="428.9" r="1.9"/><circle cx="157.4" cy="424.7" r="1.9"/><circle cx="160.8" cy="420.7" r="1.9"/><circle cx="164.8" cy="415.8" r="1.9"/><circle cx="167.6" cy="413.2" r="1.9"/><circle cx="171.8" cy="405.5" r="1.9"/><circle cx="175.4" cy="408.1" r="1.9"/><circle cx="178.4" cy="406.7" r="1.9"/><circle cx="182.2" cy="405.4" r="1.9"/><circle cx="185.4" cy="402.7" r="1.9"/><circle cx="188.6" cy="400.3" r="1.9"/><circle cx="192.1" cy="406.5" r="1.9"/><circle cx="196.1" cy="401" r="1.9"/><circle cx="199.8" cy="403.3" r="1.9"/><circle cx="203.3" cy="398.1" r="1.9"/><circle cx="206.9" cy="401" r="1.9"/><circle cx="209.9" cy="402.4" r="1.9"/><circle cx="213.7" cy="401.6" r="1.9"/><circle cx="216.7" cy="408.6" r="1.9"/><circle cx="220.6" cy="408.3" r="1.9"/><circle cx="223.9" cy="414.4" r="1.9"/><circle cx="227.7" cy="409.6" r="1.9"/><circle cx="230.6" cy="410.8" r="1.9"/><circle cx="234.6" cy="409.6" r="1.9"/><circle cx="238" cy="430.4" r="1.9"/><circle cx="241.2" cy="426.5" r="1.9"/><circle cx="245.3" cy="419.5" r="1.9"/><circle cx="248.8" cy="433" r="1.9"/><circle cx="252.4" cy="436.8" r="1.9"/><circle cx="255.4" cy="436" r="1.9"/><circle cx="259.3" cy="438.7" r="1.9"/><circle cx="262.9" cy="439.7" r="1.9"/><circle cx="266.3" cy="440.7" r="1.9"/><circle cx="269.1" cy="438.3" r="1.9"/><circle cx="273.3" cy="441.3" r="1.9"/><circle cx="276.5" cy="445.7" r="1.9"/><circle cx="279.9" cy="445.8" r="1.9"/><circle cx="283.9" cy="440.4" r="1.9"/><circle cx="287.4" cy="445.7" r="1.9"/><circle cx="290.4" cy="448.7" r="1.9"/><circle cx="293.9" cy="439.8" r="1.9"/><circle cx="297.3" cy="439.2" r="1.9"/><circle cx="300.8" cy="436.6" r="1.9"/><circle cx="304.4" cy="442.5" r="1.9"/><circle cx="308.3" cy="436.1" r="1.9"/><circle cx="311.2" cy="436.3" r="1.9"/><circle cx="314.5" cy="433.6" r="1.9"/><circle cx="318.2" cy="437.9" r="1.9"/><circle cx="322.4" cy="431.9" r="1.9"/><circle cx="325.6" cy="424.6" r="1.9"/><circle cx="329.2" cy="414.7" r="1.9"/><circle cx="332.5" cy="418" r="1.9"/></g>
<polyline fill="none" stroke="#000" stroke-width="2" stroke-linejoin="round" points="63,409.2 64.7,409.5 66.1,411.5 67,414.9 68.1,417.6 69.5,419 71.5,419.6 72.9,420.3 74.2,421.7 75.6,423.7 76.9,426.4 78.3,427.8 79.6,428.4 81,429.1 82.3,430.5 83.7,431.1 85,431.8 86.4,432.5 87.8,434.5 89.1,436.6 90.5,437.9 91.8,437.2 93.2,438.6 94.5,439.9 95.9,441.3 97.2,442.6 98.6,444 99.9,444.7 101.3,445.4 102.6,445.4 104,444.7 105.4,445.4 106.7,446 108.1,446.7 109.4,446 110.8,445.4 112.1,444.7 113.5,444 114.8,444.7 116.2,444 117.5,443.3 118.9,443.3 120.2,444 121.6,444.7 123,444.7 124.3,444 125,444.2 125.7,444.7 127,442.8 129.1,442.1 131.1,441.4 133.1,440.8 135.2,441.2 137.2,441.9 139.2,442.5 141.2,441.2 142.6,438.7 144,435.4 145.3,431.3 146.7,430.6 148,432.6 149.4,434 150.7,432.6 152.1,430.6 153.4,429.3 154.8,427.9 156.1,426.6 157.5,425.9 158.8,425.2 160.2,425.5 161.6,422.5 162.9,419.1 164.3,415.7 165.6,413 167,411.7 168.3,410.3 169.7,408.3 171,407.3 172.4,406.9 173.7,405.6 175.1,403.5 176.4,401.5 177.8,400.2 179.2,398.8 180.5,399.5 181.9,400.6 183.2,400.8 184.6,400.6 185,399.7 186.7,399.1 188.5,400.3 190.2,401.5 192,400.9 193.7,399.1 195.4,396.8 197.2,394.5 198.7,397.4 200.1,398 201.8,396.8 203.6,397.4 205,399.7 206.5,398.6 208.2,397.4 210,398.6 211.7,400.3 213.4,402 215.2,403.2 216.9,403.8 218.7,405 219.8,407.3 221,409.6 222.1,409 223.9,409 225.6,410.2 227.4,410.8 229.1,411.3 230.8,411.9 232.6,411.9 234.3,411.9 236.1,412.5 237.8,414.8 239,418.3 240.1,422.9 241.3,424.1 243,424.1 244.4,423.3 244.8,424.7 245.8,425.5 246.5,425.8 247.3,426.9 248.2,427 248.7,427.6 250.2,428.4 251.6,429.1 253.1,428.4 254.5,434.9 256,438.5 257.4,441.4 258.9,440.7 260.3,440 261.8,441.4 263.2,440 264.7,438.5 266.1,439.2 267.6,440.7 269,441.4 270.5,442.9 271.9,443.6 273.4,444.3 274.8,445.1 276.3,445.8 277.7,447.2 278.9,449.4 279.9,448 281.3,445.8 282.8,444.3 284.2,445.8 285.7,449.4 286.7,458.1 287.9,453 289.3,448.7 290,450.1 291.5,447.2 292.9,445.1 294.4,443.6 295.8,441.4 297.3,437.8 298.7,436.3 300.2,438.5 301.6,440 303.1,442.1 304.5,440 306,438.5 307.4,437.8 308.9,436.3 310.3,435.6 311.8,434.9 313.2,435.6 314.7,434.2 316.1,433.4 317.6,432.7 319,432 320.5,433.4 321.9,431.3 323.4,429.8 324.8,427.6 326.3,426.2 327.7,424.7 329.2,419.7 330.6,415.3 331.8,413.1 332.8,415.3 333.8,418.2 335,417.5 335.7,418.9"/>
<g fill="#a3160c"><circle cx="65.4" cy="413.5" r="1.9"/><circle cx="66.8" cy="418.3" r="1.9"/><circle cx="66.5" cy="424.4" r="1.9"/><circle cx="68.1" cy="420.3" r="1.9"/><circle cx="70.2" cy="421" r="1.9"/><circle cx="74.2" cy="421.7" r="1.9"/><circle cx="75.6" cy="432.5" r="1.9"/><circle cx="76.9" cy="439.3" r="1.9"/><circle cx="77.6" cy="428.4" r="1.9"/><circle cx="79" cy="426.4" r="1.9"/><circle cx="80.3" cy="435.2" r="1.9"/><circle cx="83" cy="429.8" r="1.9"/><circle cx="84.4" cy="430.5" r="1.9"/><circle cx="85.7" cy="435.9" r="1.9"/><circle cx="87.1" cy="440.3" r="1.9"/><circle cx="88.4" cy="446" r="1.9"/><circle cx="89.8" cy="450.8" r="1.9"/><circle cx="89.1" cy="440.6" r="1.9"/><circle cx="91.8" cy="439.3" r="1.9"/><circle cx="93.2" cy="438.6" r="1.9"/><circle cx="94.5" cy="437.9" r="1.9"/><circle cx="94.9" cy="444" r="1.9"/><circle cx="96.6" cy="452.8" r="1.9"/><circle cx="97.9" cy="446.7" r="1.9"/><circle cx="99.9" cy="441.3" r="1.9"/><circle cx="101.3" cy="446" r="1.9"/><circle cx="102.6" cy="450.1" r="1.9"/><circle cx="104" cy="445.4" r="1.9"/><circle cx="105.4" cy="433.8" r="1.9"/><circle cx="106.7" cy="455.5" r="1.9"/><circle cx="107.4" cy="444.7" r="1.9"/><circle cx="108.7" cy="447.4" r="1.9"/><circle cx="110.8" cy="448.1" r="1.9"/><circle cx="111.7" cy="450.1" r="1.9"/><circle cx="113.5" cy="440.6" r="1.9"/><circle cx="115.2" cy="438.6" r="1.9"/><circle cx="115.5" cy="446.7" r="1.9"/><circle cx="118.2" cy="446" r="1.9"/><circle cx="120.9" cy="448.7" r="1.9"/><circle cx="122.3" cy="444.7" r="1.9"/><circle cx="124.3" cy="446" r="1.9"/><circle cx="126.3" cy="442" r="1.9"/><circle cx="119.6" cy="446.7" r="1.9"/><circle cx="114.2" cy="447.4" r="1.9"/><circle cx="125.7" cy="442.1" r="1.9"/><circle cx="126.4" cy="445.5" r="1.9"/><circle cx="128.4" cy="446.2" r="1.9"/><circle cx="129.1" cy="448.2" r="1.9"/><circle cx="130.4" cy="442.8" r="1.9"/><circle cx="131.1" cy="441.4" r="1.9"/><circle cx="133.1" cy="444.2" r="1.9"/><circle cx="134.5" cy="443.5" r="1.9"/><circle cx="137.2" cy="446.9" r="1.9"/><circle cx="139.2" cy="449.6" r="1.9"/><circle cx="140.6" cy="441.7" r="1.9"/><circle cx="142.3" cy="437.1" r="1.9"/><circle cx="143.3" cy="429.3" r="1.9"/><circle cx="145.3" cy="430.6" r="1.9"/><circle cx="146.7" cy="433.3" r="1.9"/><circle cx="147.7" cy="436.7" r="1.9"/><circle cx="148.7" cy="446.2" r="1.9"/><circle cx="150" cy="435.4" r="1.9"/><circle cx="152.1" cy="433.3" r="1.9"/><circle cx="152.8" cy="422.5" r="1.9"/><circle cx="153.7" cy="430.6" r="1.9"/><circle cx="155.5" cy="427.2" r="1.9"/><circle cx="156.8" cy="425.9" r="1.9"/><circle cx="158.2" cy="424.5" r="1.9"/><circle cx="159.5" cy="422.5" r="1.9"/><circle cx="160.9" cy="420.5" r="1.9"/><circle cx="162.9" cy="417.8" r="1.9"/><circle cx="164.9" cy="414.4" r="1.9"/><circle cx="167" cy="412.3" r="1.9"/><circle cx="169.7" cy="405.6" r="1.9"/><circle cx="174.4" cy="401.5" r="1.9"/><circle cx="175.8" cy="404.9" r="1.9"/><circle cx="175.4" cy="409" r="1.9"/><circle cx="175.8" cy="416.4" r="1.9"/><circle cx="179.2" cy="398.1" r="1.9"/><circle cx="180.5" cy="406.2" r="1.9"/><circle cx="183.2" cy="400.8" r="1.9"/><circle cx="185" cy="402.6" r="1.9"/><circle cx="186.2" cy="403.8" r="1.9"/><circle cx="188.5" cy="405" r="1.9"/><circle cx="190.2" cy="396.8" r="1.9"/><circle cx="192" cy="402" r="1.9"/><circle cx="194.9" cy="404.4" r="1.9"/><circle cx="196.6" cy="400.9" r="1.9"/><circle cx="197.8" cy="403.8" r="1.9"/><circle cx="198.9" cy="400.3" r="1.9"/><circle cx="201.2" cy="400.9" r="1.9"/><circle cx="203" cy="401.5" r="1.9"/><circle cx="204.7" cy="402.6" r="1.9"/><circle cx="206.5" cy="402" r="1.9"/><circle cx="208.8" cy="401.5" r="1.9"/><circle cx="210" cy="401.5" r="1.9"/><circle cx="212.3" cy="405" r="1.9"/><circle cx="214" cy="407.3" r="1.9"/><circle cx="216.3" cy="401.5" r="1.9"/><circle cx="218.1" cy="405" r="1.9"/><circle cx="219.2" cy="412.5" r="1.9"/><circle cx="220.4" cy="419.2" r="1.9"/><circle cx="222.7" cy="408.4" r="1.9"/><circle cx="225" cy="410.2" r="1.9"/><circle cx="226.2" cy="413.7" r="1.9"/><circle cx="227.9" cy="409.6" r="1.9"/><circle cx="229.7" cy="410.8" r="1.9"/><circle cx="231.4" cy="412.5" r="1.9"/><circle cx="233.7" cy="411.9" r="1.9"/><circle cx="235.5" cy="411.9" r="1.9"/><circle cx="237.2" cy="416" r="1.9"/><circle cx="239" cy="432.8" r="1.9"/><circle cx="240.1" cy="436.3" r="1.9"/><circle cx="240.5" cy="424.1" r="1.9"/><circle cx="243" cy="420" r="1.9"/><circle cx="245.3" cy="420.6" r="1.9"/><circle cx="244.2" cy="425.3" r="1.9"/><circle cx="240" cy="436.3" r="1.9"/><circle cx="249.4" cy="433.4" r="1.9"/><circle cx="250.9" cy="435.6" r="1.9"/><circle cx="251.6" cy="428.4" r="1.9"/><circle cx="252.3" cy="438.5" r="1.9"/><circle cx="253.1" cy="436.3" r="1.9"/><circle cx="253.8" cy="442.1" r="1.9"/><circle cx="255.2" cy="443.6" r="1.9"/><circle cx="258.9" cy="425.5" r="1.9"/><circle cx="258.9" cy="429.8" r="1.9"/><circle cx="258.9" cy="437.1" r="1.9"/><circle cx="260.3" cy="440.7" r="1.9"/><circle cx="263.2" cy="446.5" r="1.9"/><circle cx="265.4" cy="441.4" r="1.9"/><circle cx="269" cy="445.1" r="1.9"/><circle cx="269.7" cy="435.6" r="1.9"/><circle cx="271.2" cy="441.4" r="1.9"/><circle cx="272.6" cy="448.7" r="1.9"/><circle cx="276.3" cy="434.2" r="1.9"/><circle cx="274.8" cy="442.9" r="1.9"/><circle cx="278.4" cy="452.3" r="1.9"/><circle cx="279.2" cy="445.1" r="1.9"/><circle cx="282.1" cy="442.9" r="1.9"/><circle cx="283.5" cy="438.5" r="1.9"/><circle cx="284.2" cy="457.4" r="1.9"/><circle cx="286.4" cy="440" r="1.9"/><circle cx="287.9" cy="448.7" r="1.9"/><circle cx="287.1" cy="450.9" r="1.9"/><circle cx="290.7" cy="446.5" r="1.9"/><circle cx="292.2" cy="447.2" r="1.9"/><circle cx="293.6" cy="440" r="1.9"/><circle cx="295.1" cy="440" r="1.9"/><circle cx="296.5" cy="436.3" r="1.9"/><circle cx="298" cy="434.9" r="1.9"/><circle cx="299.4" cy="434.2" r="1.9"/><circle cx="300.4" cy="438.5" r="1.9"/><circle cx="301.6" cy="449.4" r="1.9"/><circle cx="303.1" cy="444.3" r="1.9"/><circle cx="307.4" cy="438.5" r="1.9"/><circle cx="309.6" cy="433.4" r="1.9"/><circle cx="311" cy="436.3" r="1.9"/><circle cx="313.2" cy="437.8" r="1.9"/><circle cx="314.7" cy="435.6" r="1.9"/><circle cx="316.8" cy="436.3" r="1.9"/><circle cx="318.3" cy="441.4" r="1.9"/><circle cx="319.7" cy="438.5" r="1.9"/><circle cx="321.9" cy="430.5" r="1.9"/><circle cx="324.1" cy="430.5" r="1.9"/><circle cx="327" cy="421.8" r="1.9"/><circle cx="328.4" cy="411" r="1.9"/><circle cx="329.9" cy="411" r="1.9"/><circle cx="331.3" cy="418.9" r="1.9"/><circle cx="332.8" cy="417.5" r="1.9"/><circle cx="333.5" cy="426.2" r="1.9"/><circle cx="335.7" cy="421.8" r="1.9"/></g>
<g fill="#1d9cf0"><circle cx="409" cy="73.2" r="1.8"/><circle cx="410.8" cy="76.3" r="1.8"/><circle cx="410.3" cy="87.7" r="1.8"/><circle cx="413.1" cy="88.3" r="1.8"/><circle cx="414.6" cy="87.7" r="1.8"/><circle cx="415.6" cy="91.4" r="1.8"/><circle cx="418.1" cy="96.5" r="1.8"/><circle cx="419.3" cy="102.7" r="1.8"/><circle cx="421.2" cy="108.4" r="1.8"/><circle cx="422.5" cy="104" r="1.8"/><circle cx="426.3" cy="83.9" r="1.8"/><circle cx="425.6" cy="104.6" r="1.8"/><circle cx="427.5" cy="102.7" r="1.8"/><circle cx="428.8" cy="100.2" r="1.8"/><circle cx="430" cy="103.4" r="1.8"/><circle cx="432.5" cy="105.3" r="1.8"/><circle cx="435.1" cy="108.4" r="1.8"/><circle cx="436.3" cy="98.3" r="1.8"/><circle cx="437.6" cy="107.8" r="1.8"/><circle cx="439.5" cy="110.9" r="1.8"/><circle cx="441.3" cy="114.1" r="1.8"/><circle cx="443.5" cy="100" r="1.8"/><circle cx="443.9" cy="109.7" r="1.8"/><circle cx="446.4" cy="116.6" r="1.8"/><circle cx="447.6" cy="105.3" r="1.8"/><circle cx="448.9" cy="108.4" r="1.8"/><circle cx="451.4" cy="110.3" r="1.8"/><circle cx="453.3" cy="98.7" r="1.8"/><circle cx="456.4" cy="108.4" r="1.8"/><circle cx="458.3" cy="102.1" r="1.8"/><circle cx="460.2" cy="104.6" r="1.8"/><circle cx="462.1" cy="107.8" r="1.8"/><circle cx="464.6" cy="104.6" r="1.8"/><circle cx="466.5" cy="100.2" r="1.8"/><circle cx="468.4" cy="107.8" r="1.8"/><circle cx="468.8" cy="107.4" r="1.8"/><circle cx="472.6" cy="102.7" r="1.8"/><circle cx="477.3" cy="102.7" r="1.8"/><circle cx="478.8" cy="100.4" r="1.8"/><circle cx="481.2" cy="96.5" r="1.8"/><circle cx="483.5" cy="95" r="1.8"/><circle cx="485.8" cy="91.9" r="1.8"/><circle cx="486.6" cy="83.4" r="1.8"/><circle cx="489.7" cy="81.1" r="1.8"/><circle cx="490.4" cy="92.7" r="1.8"/><circle cx="492" cy="97.3" r="1.8"/><circle cx="493.5" cy="96.5" r="1.8"/><circle cx="495.9" cy="85.7" r="1.8"/><circle cx="498.2" cy="79.5" r="1.8"/><circle cx="498.9" cy="67.9" r="1.8"/><circle cx="501.3" cy="75.6" r="1.8"/><circle cx="502.8" cy="65.6" r="1.8"/><circle cx="504.4" cy="62.5" r="1.8"/><circle cx="505.9" cy="70.2" r="1.8"/><circle cx="507.5" cy="60.2" r="1.8"/><circle cx="509.8" cy="63.3" r="1.8"/><circle cx="511.3" cy="54" r="1.8"/><circle cx="514.4" cy="54.8" r="1.8"/><circle cx="519.1" cy="56.3" r="1.8"/><circle cx="523.7" cy="58.6" r="1.8"/><circle cx="525.3" cy="61.7" r="1.8"/><circle cx="524.9" cy="70.5" r="1.8"/><circle cx="528.3" cy="54" r="1.8"/><circle cx="531.3" cy="56.3" r="1.8"/><circle cx="533.8" cy="53.8" r="1.8"/><circle cx="536.9" cy="56.9" r="1.8"/><circle cx="540.7" cy="51.3" r="1.8"/><circle cx="542.3" cy="55.4" r="1.8"/><circle cx="545.1" cy="48.7" r="1.8"/><circle cx="548.2" cy="50" r="1.8"/><circle cx="549.5" cy="56.3" r="1.8"/><circle cx="551.4" cy="61.9" r="1.8"/><circle cx="553.3" cy="54.4" r="1.8"/><circle cx="557" cy="64.5" r="1.8"/><circle cx="560.8" cy="65.7" r="1.8"/><circle cx="563.9" cy="64.5" r="1.8"/><circle cx="562.7" cy="76.4" r="1.8"/><circle cx="563.9" cy="79.5" r="1.8"/><circle cx="566.5" cy="63.2" r="1.8"/><circle cx="567.1" cy="73.9" r="1.8"/><circle cx="569.6" cy="69.5" r="1.8"/><circle cx="570.9" cy="65.1" r="1.8"/><circle cx="572.7" cy="83.3" r="1.8"/><circle cx="576.5" cy="72" r="1.8"/><circle cx="580.3" cy="81.4" r="1.8"/><circle cx="586.9" cy="93.3" r="1.8"/><circle cx="588.8" cy="95.2" r="1.8"/><circle cx="590.7" cy="104" r="1.8"/><circle cx="593.8" cy="97.7" r="1.8"/><circle cx="595.7" cy="97.7" r="1.8"/><circle cx="597.6" cy="105.3" r="1.8"/><circle cx="600.1" cy="108.4" r="1.8"/><circle cx="601.3" cy="99.2" r="1.8"/><circle cx="603.2" cy="104.6" r="1.8"/><circle cx="606.4" cy="97.7" r="1.8"/><circle cx="608.3" cy="101.5" r="1.8"/><circle cx="610.8" cy="107.8" r="1.8"/><circle cx="612" cy="102.7" r="1.8"/><circle cx="612.7" cy="113.4" r="1.8"/><circle cx="618.3" cy="105.3" r="1.8"/><circle cx="619.6" cy="107.8" r="1.8"/><circle cx="620.8" cy="109.7" r="1.8"/><circle cx="622.7" cy="104" r="1.8"/><circle cx="624" cy="103.4" r="1.8"/><circle cx="625.9" cy="99" r="1.8"/><circle cx="627.7" cy="104" r="1.8"/><circle cx="628.4" cy="113.4" r="1.8"/><circle cx="630.3" cy="115.3" r="1.8"/><circle cx="631.5" cy="112.2" r="1.8"/><circle cx="632.8" cy="105.3" r="1.8"/><circle cx="634" cy="98.3" r="1.8"/><circle cx="635.3" cy="97.7" r="1.8"/><circle cx="637.2" cy="93.9" r="1.8"/><circle cx="639.1" cy="93.9" r="1.8"/><circle cx="640.3" cy="90.2" r="1.8"/><circle cx="644.1" cy="81.4" r="1.8"/><circle cx="643.5" cy="83.9" r="1.8"/><circle cx="645.3" cy="100.9" r="1.8"/><circle cx="644.7" cy="103.4" r="1.8"/><circle cx="647.9" cy="93.9" r="1.8"/><circle cx="645" cy="99.6" r="1.8"/><circle cx="645.3" cy="103" r="1.8"/><circle cx="647.3" cy="94.2" r="1.8"/><circle cx="649.4" cy="86" r="1.8"/><circle cx="651.4" cy="91.4" r="1.8"/><circle cx="652.8" cy="94.2" r="1.8"/><circle cx="653.4" cy="84.7" r="1.8"/><circle cx="655.5" cy="89.4" r="1.8"/><circle cx="654.8" cy="92.1" r="1.8"/><circle cx="657.5" cy="98.2" r="1.8"/><circle cx="658.2" cy="88.1" r="1.8"/><circle cx="661.6" cy="90.8" r="1.8"/><circle cx="663.6" cy="85.4" r="1.8"/><circle cx="664.9" cy="84" r="1.8"/><circle cx="667" cy="77.9" r="1.8"/><circle cx="669" cy="84.7" r="1.8"/><circle cx="670.4" cy="76.6" r="1.8"/><circle cx="670.4" cy="71.1" r="1.8"/><circle cx="672.4" cy="64.4" r="1.8"/><circle cx="673.7" cy="68.4" r="1.8"/><circle cx="675.1" cy="60.3" r="1.8"/><circle cx="676.4" cy="64.4" r="1.8"/><circle cx="676.2" cy="82.6" r="1.8"/><circle cx="676.4" cy="89.4" r="1.8"/><circle cx="677.1" cy="78.6" r="1.8"/><circle cx="679.2" cy="61.7" r="1.8"/></g>
<polyline fill="none" stroke="#000" stroke-width="2.2" stroke-linejoin="round" points="406.5,77.1 406.5,76.3 407.4,75.2 408,75.7 408.3,75.5 409.2,74.9 409.3,75.3 410.1,78.2 410.3,78.9 410.8,85.1 411,86.2 411.5,91.4 411.9,91.2 412.8,92.9 412.8,93.5 413.7,91.6 414.1,92.1 414.6,93.3 415.3,93.9 415.5,94.6 416.4,97.1 416.6,97.7 417.3,96.2 417.8,96.5 418.2,98.4 418.8,99 419.1,98.6 419.8,101.5 420,101.4 420.9,99 420.9,99.4 421.8,102.7 421.9,102.7 422.7,103.1 422.9,105.3 423.6,102.2 423.9,100.2 424.5,99.5 424.9,97.7 425.4,101.4 425.9,102.7 426.3,99.1 426.9,93.9 427.2,95.1 427.6,92.7 428.1,94 428.6,96.5 429,98.6 429.7,97.7 429.9,99 430.7,100.2 430.8,98.2 431.7,101.5 431.7,102.5 432.6,100 432.7,100.2 433.5,104.1 433.7,104 434.4,103.2 434.7,102.7 435.3,102.3 435.7,101.5 436.2,104 436.7,104 437.1,102 437.7,103.4 438,104.4 438.7,104.6 438.9,103.8 439.7,106.5 439.8,108.2 440.7,109 440.7,108.4 441.6,106.7 442,106.5 442.5,106.2 443,109 443.4,109.2 444,107.1 444.3,108.5 445,109.7 445.2,108.5 446,107.8 446.1,108 447,106.5 447,105.9 447.9,107.6 448,109.7 448.8,112.6 449,110.3 449.7,113.5 449.8,114.1 450.5,117.2 450.6,117.7 451.5,109.6 451.5,110.3 452.4,107.6 452.5,107.8 453.3,107.5 453.8,107.1 454.2,105.9 455,107.8 455.1,107.9 456,108 456.3,107.1 456.9,106.8 457.6,106.5 457.8,106.3 458.7,105.6 458.8,106.5 459.6,105.3 460.1,106.5 460.5,106.8 461.3,105.9 461.4,105.7 462.3,104.5 462.6,105.9 463.2,106.4 463.8,105.9 464.1,105.6 465,106.2 465.1,105.9 465.9,105.8 466.4,105.9 466.8,106.2 467.6,105.3 467.7,105.1 468,102.7 468.6,101.1 469.5,98.1 469.5,99.6 470.4,98.7 471.1,96.5 471.3,96.7 472.2,98.9 472.3,98.9 473.1,95.7 473.6,95 474,93.4 474.8,91.9 474.9,91.6 475.8,96.1 476,96.5 476.7,96.9 477.3,98.1 477.6,96.9 478.5,93.4 478.5,91.9 479.4,95.2 479.8,95 480.3,92.5 481,88.8 481.2,86.7 482.1,87.1 482.2,87.3 483,88.9 483.5,91.1 483.9,89.1 484.7,88 484.8,87.4 485.7,86.9 485.9,85.7 486.6,86.3 487.2,86.5 487.5,83.8 488.4,83.2 488.4,82.6 489.3,85 489.7,84.9 490.2,83.3 490.9,82.6 491.1,83.8 492,87.3 492.1,87.3 492.9,85.1 493.4,85.7 493.8,84.5 494.6,81.1 494.7,80.6 495.6,77.7 495.9,76.4 496.5,73.3 497.1,74.1 497.4,75.3 498.3,75.9 498.3,76.4 499.2,72.9 499.6,73.3 500.1,73.5 500.8,74.9 501,74.2 501.9,71.5 502,71 502.8,70 503.3,68.7 503.7,66.6 504.5,65.6 504.6,66 505.5,67.9 505.8,67.1 506.4,65.6 507,63.3 507.3,62.9 508.2,63.8 508.2,64.8 509.1,67.5 509.2,67.1 510,64.5 510.1,62.5 510.9,61 511.3,59.4 511.8,59.1 512.6,54.8 512.7,53.5 513.6,54.2 513.8,53.2 514.5,55.8 515,55.5 515.4,55.6 516.3,53.2 516.3,52.8 517.2,55.5 517.5,54.8 518.1,53.2 518.8,53.2 519,53.6 519.9,57.7 520,57.9 520.8,55.6 521.2,54.8 521.7,53 522.5,49.3 522.6,49.4 523.5,46.8 523.7,47 524.4,50.8 524.9,53.2 525.3,51.1 526.2,48.6 526.2,48.5 527.1,45.8 527.4,45.5 528,45.9 528.7,45.5 528.9,45.1 529.8,47.3 529.9,47 530.7,48.9 531,51.3 531.6,49.8 532,49.4 532.5,46.5 533,44.3 533.4,43.2 534,41.8 534.3,41.3 535,43.1 535.2,41.2 535.8,39.9 536.1,45.6 536.5,50 537,51.9 537.3,53.1 537.9,48.7 538.3,46.9 538.8,45 539.3,42.5 539.7,41.7 540.3,43.1 540.6,43.5 541.3,45.6 541.5,44.8 542.3,44.3 542.4,43.9 543.3,44.7 543.3,46.2 544.2,43.9 544.3,43.1 545.1,41.8 545.3,41.8 546,40.7 546.1,40.6 546.9,41.8 547.1,41.8 547.8,42.5 548.1,42.5 548.7,42.4 549.1,43.1 549.6,44.7 550.1,45.6 550.5,50.9 550.7,51.9 551.4,55.4 551.6,56.3 552.3,55.4 552.6,54.4 553.2,55.3 553.6,55.7 554.1,57 554.6,57.5 555,58.1 555.6,58.8 555.9,58.9 556.7,60.1 556.8,59.7 557.7,61.3 557.7,61.4 558.6,64 558.7,61.9 559.5,62.3 559.7,63.2 560.4,64.9 560.7,64.5 561.3,66.7 561.7,65.7 562.2,66.4 562.7,68.2 563.1,71.2 563.4,73.3 564,69 564.2,67 564.9,65.6 565.2,64.5 565.8,65.4 566.2,67 566.7,67.6 567.2,69.5 567.6,68.4 568.2,68.2 568.5,68.2 569.2,67 569.4,67.3 570.2,69.5 570.3,70.2 571.2,71.9 571.2,72 572.1,74.6 572.2,74.5 573,77.9 573.2,78.3 573.9,75.6 574.3,75.8 574.8,74.2 575.3,74.5 575.7,73.6 576.3,73.3 576.6,74.7 577.3,77 577.5,77.2 578.3,80.8 578.4,80.3 579.3,83.3 579.3,83.9 580.2,83.8 580.3,83.9 581.1,85.1 581.3,85.8 582,89 582.9,89.5 583.8,93.8 584.7,96.1 585,97.7 585.6,99 586.3,100.2 586.5,99.9 587.4,103.4 587.5,102.7 588.3,102.6 588.8,103.4 589.2,104.8 590,105.3 590.1,105.3 591,108.2 591.3,109.7 591.9,109.5 592.5,110.3 592.8,108.9 593.7,107.1 593.8,106.5 594.6,102.5 595.1,100.2 595.5,99 596.1,97.7 596.4,98.6 597.1,102.7 597.3,103.4 598.1,104.6 598.2,105.2 599.1,106.5 599.1,106.9 600,110.3 600.1,110.3 600.9,106.9 601.1,106.5 601.8,105.5 602.1,104.6 602.7,107.2 603.1,107.8 603.6,107.3 604.1,106.5 604.5,106.2 605.1,107.1 605.4,106.3 606.1,106.5 606.3,106.4 607.1,105.9 607.2,105.9 608.1,105.1 608.1,105.3 609,106 609.1,106.5 609.9,107.2 610.1,107.1 610.8,106.9 611.2,106.5 611.7,107.5 612.2,107.8 612.6,109.3 613.2,107.1 613.5,106.4 614.2,108.4 614.4,108.1 615.2,110.3 615.3,109.9 616.2,111.5 616.2,112.1 617.1,114.5 617.2,115.3 617.9,119.1 618,118.9 618.9,117 618.9,115.3 619.8,114 620,112.8 620.7,117.2 621,117.8 621.6,114 622,112.8 622.5,110.5 623,107.8 623.4,107.9 624,106.5 624.3,107.8 625,107.8 625.2,108.1 626,106.5 626.1,107.2 627,105.3 627,105.5 627.9,109.4 628,109.7 628.8,106.9 629,105.3 629.7,106.9 630,107.8 630.6,110.9 631,112.2 631.5,110.1 632,107.8 632.4,107.7 633,106.5 633.3,106 634,105.9 634.2,103.9 635,105.3 635.1,104 636,105.5 636,105.3 636.9,105.9 637,104.6 637.8,104.4 638.1,104 638.7,104.2 639.1,102.7 639.6,101.1 639.6,101.6 640.1,97.7 640.5,97 640.6,96.9 641.1,93.9 641.4,93 641.5,92.1 642.1,91.4 642.3,89.9 642.6,88.7 643.1,87 643.2,87 643.7,84.7 644.1,83.9 644.1,82.8 644.8,90.1 645,90.8 645.1,91.4 645.9,95.5 645.9,94.8 646.8,93 646.9,91.4 647.7,89.5 648,88.7 648.6,86.8 649.1,86 649.5,86.9 650.1,85.1 650.4,86.3 651.3,86.7 651.3,86.9 652.2,85.6 652.3,87.4 653.1,87.3 653.4,86 654,84.3 654.5,85.4 654.9,86.5 655.6,86.7 655.8,85.4 656.7,83.3 656.7,84 657.6,85.5 657.8,86 658.5,83 658.8,80.6 659.4,79.6 659.9,77.9 660.3,78.2 661,80.6 661.2,80.8 662.1,83.3 662.1,83.3 663,80.7 663.2,79.3 663.9,78 664.3,77.2 664.8,76.3 665.3,75.9 665.7,75.3 666.4,77.9 666.6,77.7 667.5,79.3 667.5,79.1 668.4,77.3 668.6,76.6 669.3,79.2 669.7,78.6 670.2,76.7 670.8,75.2 671.1,72.4 671.8,69.1 672,69.6 672.9,63.9 672.9,65 673.8,64.6 674,63.7 674.7,65.9 675.1,66.4 675.6,64.6 675.9,64.4 676.5,76 676.7,79.3 677.4,68.4 677.5,67.1 678.3,64.4 678.5,65 679.2,61.4 679.6,63"/>
<g fill="#1d9cf0"><circle cx="409" cy="191.1" r="1.8"/><circle cx="409.9" cy="196.4" r="1.8"/><circle cx="410.3" cy="207.4" r="1.8"/><circle cx="413.3" cy="203.7" r="1.8"/><circle cx="414.6" cy="207.1" r="1.8"/><circle cx="416.2" cy="206.4" r="1.8"/><circle cx="419.3" cy="219" r="1.8"/><circle cx="420.9" cy="223.4" r="1.8"/><circle cx="426.6" cy="199.9" r="1.8"/><circle cx="425.6" cy="208.9" r="1.8"/><circle cx="425.6" cy="220.3" r="1.8"/><circle cx="428.1" cy="222.1" r="1.8"/><circle cx="430" cy="222.1" r="1.8"/><circle cx="432.5" cy="214.6" r="1.8"/><circle cx="433.2" cy="224" r="1.8"/><circle cx="436.3" cy="221.5" r="1.8"/><circle cx="438.8" cy="223.4" r="1.8"/><circle cx="441.3" cy="228.4" r="1.8"/><circle cx="444.5" cy="218.4" r="1.8"/><circle cx="445.7" cy="229.7" r="1.8"/><circle cx="447.6" cy="222.1" r="1.8"/><circle cx="452" cy="222.1" r="1.8"/><circle cx="453.9" cy="219.6" r="1.8"/><circle cx="455.8" cy="220.3" r="1.8"/><circle cx="458.3" cy="220.3" r="1.8"/><circle cx="460.8" cy="219" r="1.8"/><circle cx="462.7" cy="224.7" r="1.8"/><circle cx="464.6" cy="219.6" r="1.8"/><circle cx="467.1" cy="217.1" r="1.8"/><circle cx="468.4" cy="224.7" r="1.8"/><circle cx="468.8" cy="224.6" r="1.8"/><circle cx="471.9" cy="220" r="1.8"/><circle cx="476.5" cy="217.6" r="1.8"/><circle cx="478.1" cy="216.1" r="1.8"/><circle cx="481.2" cy="218.4" r="1.8"/><circle cx="482.7" cy="213" r="1.8"/><circle cx="484.2" cy="213" r="1.8"/><circle cx="485" cy="205.3" r="1.8"/><circle cx="490.4" cy="213" r="1.8"/><circle cx="492.8" cy="212.2" r="1.8"/><circle cx="494.3" cy="207.6" r="1.8"/><circle cx="495.9" cy="197.5" r="1.8"/><circle cx="498.2" cy="199.8" r="1.8"/><circle cx="499.7" cy="187.5" r="1.8"/><circle cx="501.3" cy="195.2" r="1.8"/><circle cx="502.8" cy="185.9" r="1.8"/><circle cx="505.1" cy="179.7" r="1.8"/><circle cx="505.9" cy="189" r="1.8"/><circle cx="507.5" cy="178.9" r="1.8"/><circle cx="509.8" cy="180.5" r="1.8"/><circle cx="512.1" cy="172" r="1.8"/><circle cx="519.8" cy="175.9" r="1.8"/><circle cx="524.5" cy="178.2" r="1.8"/><circle cx="526" cy="178.9" r="1.8"/><circle cx="524.9" cy="189.5" r="1.8"/><circle cx="529.1" cy="172.8" r="1.8"/><circle cx="530.6" cy="176.4" r="1.8"/><circle cx="532.5" cy="173.3" r="1.8"/><circle cx="536.5" cy="178.9" r="1.8"/><circle cx="540.7" cy="168.3" r="1.8"/><circle cx="542.3" cy="175.2" r="1.8"/><circle cx="545.1" cy="168.3" r="1.8"/><circle cx="548.2" cy="167" r="1.8"/><circle cx="550.4" cy="177.7" r="1.8"/><circle cx="554.5" cy="176.4" r="1.8"/><circle cx="557" cy="182.1" r="1.8"/><circle cx="560.2" cy="181.5" r="1.8"/><circle cx="562.4" cy="187.7" r="1.8"/><circle cx="563.3" cy="198.4" r="1.8"/><circle cx="565.8" cy="179.6" r="1.8"/><circle cx="566.5" cy="190.3" r="1.8"/><circle cx="564.6" cy="189.6" r="1.8"/><circle cx="569" cy="183.3" r="1.8"/><circle cx="571.5" cy="184" r="1.8"/><circle cx="572.7" cy="193.4" r="1.8"/><circle cx="577.1" cy="195.3" r="1.8"/><circle cx="580.9" cy="197.2" r="1.8"/><circle cx="586.9" cy="212.1" r="1.8"/><circle cx="589.4" cy="214" r="1.8"/><circle cx="593.2" cy="216.5" r="1.8"/><circle cx="602" cy="213.3" r="1.8"/><circle cx="603.9" cy="219" r="1.8"/><circle cx="607" cy="215.2" r="1.8"/><circle cx="609.5" cy="217.1" r="1.8"/><circle cx="611.4" cy="219" r="1.8"/><circle cx="612.7" cy="219.6" r="1.8"/><circle cx="610.8" cy="225.3" r="1.8"/><circle cx="612" cy="227.8" r="1.8"/><circle cx="613.3" cy="225.9" r="1.8"/><circle cx="618.9" cy="219" r="1.8"/><circle cx="620.8" cy="225.9" r="1.8"/><circle cx="622.7" cy="225.3" r="1.8"/><circle cx="624" cy="219.6" r="1.8"/><circle cx="625.2" cy="220.9" r="1.8"/><circle cx="627.1" cy="218.4" r="1.8"/><circle cx="628.4" cy="227.2" r="1.8"/><circle cx="629.6" cy="224" r="1.8"/><circle cx="633.4" cy="220.3" r="1.8"/><circle cx="634.7" cy="215.9" r="1.8"/><circle cx="635.9" cy="219.6" r="1.8"/><circle cx="637.2" cy="213.3" r="1.8"/><circle cx="640.3" cy="207.7" r="1.8"/><circle cx="644.1" cy="201.4" r="1.8"/><circle cx="645.3" cy="222.8" r="1.8"/><circle cx="646.6" cy="215.2" r="1.8"/><circle cx="647.9" cy="210.2" r="1.8"/><circle cx="645" cy="222.7" r="1.8"/><circle cx="646.7" cy="214.6" r="1.8"/><circle cx="651.4" cy="207.8" r="1.8"/><circle cx="652.8" cy="203.7" r="1.8"/><circle cx="654.1" cy="207.8" r="1.8"/><circle cx="656.1" cy="206.4" r="1.8"/><circle cx="656.8" cy="217.3" r="1.8"/><circle cx="657.5" cy="207.1" r="1.8"/><circle cx="661.6" cy="193.6" r="1.8"/><circle cx="662.2" cy="204.4" r="1.8"/><circle cx="663.6" cy="203.1" r="1.8"/><circle cx="664.3" cy="205.1" r="1.8"/><circle cx="669.7" cy="201" r="1.8"/><circle cx="670.4" cy="199" r="1.8"/><circle cx="670.4" cy="188.2" r="1.8"/><circle cx="672.4" cy="180.7" r="1.8"/><circle cx="673.7" cy="180" r="1.8"/><circle cx="675.8" cy="179.4" r="1.8"/><circle cx="676.4" cy="197.6" r="1.8"/><circle cx="676.4" cy="208.5" r="1.8"/><circle cx="678.5" cy="180.7" r="1.8"/></g>
<polyline fill="none" stroke="#000" stroke-width="2.2" stroke-linejoin="round" points="406.5,193.6 406.5,193.2 407.4,192.9 408,192.6 408.3,193.7 409.2,191.8 409.3,192 410.1,195.9 410.3,195.7 411,201.2 411,201.4 411.8,207.1 411.9,207.6 412.8,208 413.1,208.9 413.7,208.2 414.1,208.3 414.6,209.6 415.1,210.8 415.5,211.4 416.1,211.5 416.4,212.2 417.1,214 417.3,213.7 418.1,211.5 418.2,211.9 419.1,215.2 419.1,216.6 420,212.8 420.1,212.7 420.9,214.8 421.1,216.5 421.8,218 422.1,218.4 422.7,221.2 423.1,220.9 423.6,217.8 424.1,215.2 424.5,215.6 425.1,217.1 425.4,214.8 426.1,211.5 426.3,210.7 427.1,208.9 427.2,209.8 428.1,210.3 428.1,211.5 429,211.8 429.2,212.7 429.9,214.2 430.2,215.2 430.8,215.1 431.2,214.6 431.7,216.4 432.2,217.7 432.6,216.9 433.2,216.5 433.5,216.3 434.2,217.7 434.4,216.9 435.2,219 435.3,219.1 436.2,215.2 436.2,215.7 437.1,218.8 437.2,219 438,218.6 438.2,219.6 438.9,221.8 439.2,221.5 439.8,219.1 440.2,220.9 440.7,221.9 441.2,222.1 441.6,222.1 442.2,223.4 442.5,223.3 443.2,222.8 443.4,225 444.2,222.1 444.3,222.5 445.2,224.8 445.2,223.4 446.1,222.3 446.2,222.8 447,225.1 447.3,224.7 447.9,224.3 448.3,225.3 448.8,225.2 449.3,225.9 449.7,227.8 450.3,229.1 450.6,229.5 451,231.6 451.5,228.4 452,225.3 452.4,224.6 453,223.4 453.3,223 454,222.8 454.2,221.9 455,223.4 455.1,223.6 456,222.3 456.1,223.4 456.9,222.9 457.1,222.8 457.8,225.5 458.1,222.8 458.7,223.5 459.1,223.4 459.6,223.1 460.1,222.8 460.5,223.2 461.1,222.8 461.4,222.6 462.1,222.8 462.3,223.3 463.2,222.6 463.3,222.8 464.1,223 464.6,222.8 465,223.8 465.9,222.8 465.9,223 466.8,222.6 467.1,222.1 467.7,223 468,220.7 468.6,219.4 469.5,217.8 469.5,217.6 470.4,215.5 471.1,213.8 471.3,214.3 472.2,216.8 472.3,216.1 473.1,212.3 473.6,211.4 474,211.2 474.8,209.9 474.9,210.5 475.8,213.2 476,215.3 476.7,215.1 477.3,213 477.6,211.7 478.5,208.2 478.5,209.1 479.4,209.3 479.8,209.9 480.3,208.2 481,206.8 481.2,207.2 482.1,208 482.2,207.6 483,210.2 483.5,209.9 483.9,208.1 484.7,205.3 484.8,205 485.7,204.6 485.9,203.7 486.6,202.7 487.2,202.2 487.5,201.2 488.4,201.1 488.4,200.6 489.3,202 489.7,201.4 490.2,204.3 490.9,202.9 491.1,203 492,203.9 492.1,205.3 492.9,201.6 493.4,200.6 493.8,199.4 494.6,196 494.7,197.6 495.6,193.5 495.9,193.6 496.5,195.5 497.1,195.2 497.4,194.5 498.3,192.4 498.3,192.9 499.2,190.3 499.6,189.8 500.1,190.3 500.8,191.3 501,191.7 501.9,189 502,188.2 502.8,186.4 503.3,185.9 503.7,186.4 504.5,186.7 504.6,185.5 505.5,182.3 505.8,183.6 506.4,185.1 507,185.1 507.3,185.2 508.2,183.6 508.2,183.6 509.1,181.8 509.5,181.3 510,181.1 510.7,177.4 510.9,176.6 511.8,173.5 511.9,172.8 512.7,172 513.2,172 513.6,171.8 514.4,173.5 514.5,173.4 515.4,173.1 515.7,172.8 516.3,172 516.9,174.3 517.2,173.3 518.1,172 518.1,172 519,174.3 519.4,176.6 519.9,175.3 520.6,174.3 520.8,174.3 521.7,169.8 521.8,169.7 522.6,168.3 523.1,166.6 523.5,167.7 524.3,172.8 524.4,172.9 525.3,169.7 525.6,168.1 526.2,166.8 526.8,165.8 527.1,165 528,164.8 528,165 528.9,167.5 529.3,168.1 529.8,165.1 530,163.9 530.5,164.2 530.7,166.4 531,170.1 531.6,168.4 531.8,167.3 532.5,166.8 533,163.9 533.4,163.8 534,163.9 534.3,163.8 535,161.3 535.2,161.2 535.8,160.7 536.1,162.9 536.5,166.4 537,167.3 537.5,170.1 537.9,168.6 538.5,163.9 538.8,164.5 539.6,162 539.7,161.9 540.6,163.2 540.6,163.6 541.5,163.8 541.6,163.9 542.4,164.1 542.6,163.2 543.3,164.6 543.6,163.9 544.2,162.8 544.6,162.6 545.1,161.6 545.6,161.3 546,160.4 546.3,160.7 546.9,160.6 547.3,161.3 547.8,161.6 548.4,162 548.7,162.3 549.4,162.6 549.6,163 550.4,165.1 550.5,165.3 551.1,171.4 551.4,173.7 552.1,175.2 552.3,174.8 553.1,172 553.2,172.8 554.1,171.8 554.1,170.8 555,173.1 555.1,173.9 555.9,174.9 556.2,175.8 556.8,176.6 557.2,177.1 557.7,176.7 558.2,177.7 558.6,177.9 559.2,178.3 559.5,177.5 560.2,179.6 560.4,182.1 561.2,180.8 561.3,181.2 562.2,182.7 562.2,182 563.1,184.2 563.2,185.2 563.9,189 564,187.6 564.7,182.7 564.9,181.9 565.5,180.8 565.8,182.4 566.5,186.5 566.7,186 567.5,184 567.6,184.5 568.5,185.2 568.5,186.6 569.4,186.2 569.5,185.9 570.3,187.8 570.5,187.7 571.2,189.9 571.5,190.3 572.1,192 572.5,193.4 573,194.2 573.5,195.3 573.9,193.8 574.5,192.8 574.8,191.6 575.5,190.3 575.7,189.5 576.5,189.6 576.6,189.9 577.5,193.3 577.5,192.8 578.4,196.8 578.5,197.2 579.3,199.3 579.5,199.1 580.2,200.5 580.5,200.3 581.1,201.6 581.5,202.8 582,204.1 582.9,206.4 583.8,210.4 584.7,213.4 585,214 585.6,214.5 586.3,216.5 586.5,217.2 587.4,217.9 587.5,217.7 588.3,217.1 588.8,218.4 589.2,218.1 590,220.3 590.1,220.5 591,223.9 591.3,224.7 591.9,224.1 592.5,225.3 592.8,223.4 593.7,220.3 593.8,221.5 594.6,217.4 595.1,216.5 595.5,216.1 596.3,212.7 596.4,212.3 597.3,221.2 597.3,220.3 598.2,222.3 598.3,222.1 599.1,224.9 599.3,223.4 600,224.3 600.3,225.3 600.9,223.9 601.3,224.7 601.8,223.2 602.6,222.8 602.7,224.2 603.6,223.7 603.9,223.4 604.5,223.6 605.1,222.8 605.4,222.2 606.3,223.7 606.4,222.1 607.2,220.6 607.6,222.1 608.1,223 608.9,222.1 609,220.5 609.9,222 610.1,221.5 610.8,220.8 611.4,222.1 611.7,221.2 612.6,222.1 612.7,222.8 613.5,221.5 613.9,223.4 614.4,224.4 615.2,223.4 615.3,224.1 616.2,224.3 616.4,224.7 617.1,228.6 617.4,229.1 618,234.3 618.2,234.7 618.9,231.7 619.2,230.9 619.8,227.7 620.2,229.1 620.7,231.8 621.2,234.1 621.6,234.8 622.2,236.6 622.5,234 623.2,227.8 623.4,227.6 624.2,225.9 624.3,226 625.2,225.2 625.2,225.3 626.1,224.7 626.5,224 627,224.3 627.7,223.4 627.9,224.1 628.8,223.7 629,224.7 629.7,226 630.3,225.9 630.6,227 631.5,227.8 631.5,227.5 632.4,225.2 632.5,225.3 633.3,224.1 633.5,223.4 634.2,224.8 634.5,223.4 635.1,223.5 635.5,222.8 636,224 636.5,223.4 636.9,224.3 637.8,223.4 637.8,225 638.5,223.4 638.7,222.7 639.1,223.4 639.6,218.9 639.6,218.6 640.1,217.7 640.5,214.9 640.7,213.2 641.1,212.7 641.4,212 641.8,209.2 642.3,206.9 642.9,206.4 643.2,205.9 644,205.1 644.1,205.2 645,209.3 645,209.2 645.9,211.9 646.1,212.7 646.8,209.8 647.1,208.9 647.7,207.7 648.1,206.4 648.6,205.6 649.1,204.5 649.5,203.9 650.4,204.9 650.5,205.1 651.3,203.4 651.5,203.7 652.2,204.2 652.6,204.4 653.1,202.1 653.7,202.4 654,201.9 654.8,203.1 654.9,205 655.8,201.2 655.9,201.7 656.7,201.5 657,202.4 657.6,200.7 658,200.4 658.5,199.6 659.1,198.3 659.4,198.1 660.2,195.6 660.3,197 661.2,196.9 661.3,197 662.1,199.7 662.4,199.7 663,198.2 663.5,195.6 663.9,195.9 664.5,194.3 664.8,193.9 665.6,193.6 665.7,193.9 666.6,194.4 666.7,194.3 667.5,196.7 667.8,195.6 668.4,195.8 668.9,194.9 669.3,195.7 669.9,195.6 670.2,195.1 671,190.2 671.1,190 672,187 672.1,186.8 672.9,184.7 673.2,185.5 673.8,183.5 674.3,183.4 674.7,183.6 675.4,181.4 675.6,180.9 676.2,184.1 676.5,188.9 677,195.6 677.4,190.5 677.8,184.8 678.3,183.1 678.6,182.8 679.2,182.4 679.7,181.4"/>
<g fill="#1d9cf0"><circle cx="413.4" cy="321.4" r="1.8"/><circle cx="417.8" cy="332.7" r="1.8"/><circle cx="422.9" cy="338.4" r="1.8"/><circle cx="426" cy="334" r="1.8"/><circle cx="441.7" cy="340.3" r="1.8"/><circle cx="451.8" cy="344.1" r="1.8"/><circle cx="461.8" cy="345.3" r="1.8"/><circle cx="484.5" cy="330.7" r="1.8"/><circle cx="494.5" cy="324.5" r="1.8"/><circle cx="505.4" cy="313.6" r="1.8"/><circle cx="509.2" cy="307.5" r="1.8"/><circle cx="514.6" cy="299.7" r="1.8"/><circle cx="518.5" cy="295.9" r="1.8"/><circle cx="528.6" cy="291.2" r="1.8"/><circle cx="533.5" cy="291.3" r="1.8"/><circle cx="544.2" cy="286.9" r="1.8"/><circle cx="551.7" cy="288.1" r="1.8"/><circle cx="556.1" cy="293.8" r="1.8"/><circle cx="580.7" cy="315.1" r="1.8"/><circle cx="587.5" cy="335.3" r="1.8"/><circle cx="595.4" cy="342.2" r="1.8"/><circle cx="600.5" cy="340.9" r="1.8"/><circle cx="610.5" cy="342.8" r="1.8"/><circle cx="618.7" cy="350.3" r="1.8"/><circle cx="623.1" cy="353.5" r="1.8"/><circle cx="627.5" cy="345.9" r="1.8"/><circle cx="636.9" cy="344.7" r="1.8"/><circle cx="642.6" cy="335.9" r="1.8"/><circle cx="647" cy="329.6" r="1.8"/><circle cx="642.6" cy="335.8" r="1.8"/><circle cx="646" cy="329.7" r="1.8"/><circle cx="652.8" cy="324.9" r="1.8"/><circle cx="659.5" cy="321.6" r="1.8"/><circle cx="665.6" cy="318.2" r="1.8"/><circle cx="676.4" cy="310.7" r="1.8"/><circle cx="679.2" cy="314.1" r="1.8"/><circle cx="681.9" cy="304.6" r="1.8"/></g>
<polyline fill="none" stroke="#000" stroke-width="2.2" stroke-linejoin="round" points="407.8,314.5 408.8,315.8 409.5,311.4 410.3,310.1 411,312 411.5,317.7 412,331.5 412.5,322.7 413.1,327.7 413.6,323.3 414.1,325.2 414.6,324.6 415.1,327.7 415.6,325.8 416.1,327.7 416.6,330.2 417.1,331.5 417.6,333.4 418.3,332.7 419.1,334 419.8,334.6 420.3,337.8 420.8,341.5 421.3,345.3 421.9,340.3 422.4,347.8 422.9,349.1 423.4,344.1 423.9,348.5 424.4,340.3 424.9,337.8 425.4,342.8 425.9,336.5 426.4,344.1 426.9,335.3 427.4,327.7 427.9,321.4 428.4,322.7 428.9,331.5 429.4,345.3 429.9,335.3 430.4,344.1 430.9,336.5 431.4,345.3 431.9,337.8 432.4,342.8 432.9,335.3 433.4,344.1 433.9,337.8 434.4,347.8 434.9,340.3 435.4,345.3 435.9,337.8 436.4,349.1 436.9,342.8 437.4,337.8 437.9,345.3 438.4,340.3 439,342.8 439.5,347.8 440,340.3 440.5,346.6 441,342.8 441.5,351.6 442,344.1 442.5,347.8 443,342.8 443.5,349.1 444,341.5 444.5,337.8 445,335.3 445.5,344.1 446,337.8 446.5,349.1 447,342.8 447.5,352.9 448,345.3 448.5,350.3 449,342.8 449.5,346.6 450,344.1 450.5,350.3 451,345.3 451.5,352.9 452,342.8 452.5,347.8 453,350.3 453.5,344.1 454,340.3 454.5,337.8 455,335.3 455.5,342.8 456,345.3 456.6,340.3 457.1,344.1 457.6,339 458.1,342.8 458.6,346.6 459.1,340.3 459.6,345.3 460.1,337.8 460.6,342.8 461.1,340.3 461.6,345.3 462.1,341.5 462.6,345.3 463.1,340.3 463.6,342.8 464.1,337.8 464.6,340.3 465.1,342.8 465.6,339 466.1,341.5 466.6,337.8 467.1,340.3 467.6,336.5 468.1,339 469.9,345.4 470.9,336.1 471.8,337.6 472.7,335.3 473.6,340.7 474.6,336.1 475.5,334.5 476.1,329.9 476.7,333 477.4,340.7 478,336.1 478.6,338.4 479.2,336.9 479.8,339.2 480.5,334.5 481.1,339.2 481.7,331.4 482.3,336.1 482.9,339.2 483.5,340.7 484.2,334.5 484.8,331.4 485.4,333 486,328.3 486.6,326 487.3,325.3 487.9,323.7 488.5,322.2 489.1,321.4 489.7,323.7 490.4,321.4 491,323.7 491.6,334.5 492.2,336.1 493.1,336.1 494.1,336.1 494.7,333 495.3,326.8 495.9,322.2 496.5,319.1 497.2,316 497.8,312.9 498.4,314.4 499,317.5 499.6,322.2 500.3,317.5 500.9,311.3 501.5,305.1 502.1,316 502.7,314.4 503.4,311.3 504,308.2 504.6,305.1 505.2,302 505.8,298.9 506.4,308.2 507.1,302 507.7,306.7 508.3,303.6 508.9,300.5 509.5,305.1 510.2,302 510.8,305.1 511.4,303.6 512,302.8 512.6,300.5 513.3,297.4 513.9,292.8 514.5,292 515.1,293.5 515.7,292.8 516.4,294.3 517,292.8 517.6,295.9 518.2,293.5 518.8,295.1 519.4,295.9 520.1,294.3 520.7,296.6 521.3,295.1 521.9,298.2 522.5,293.5 523.2,291.2 523.8,289.7 524.4,292.8 525,291.2 525.6,298.9 526.3,309.8 526.9,302 527.5,291.2 528.1,289.7 528.7,292.8 529.3,291.2 530,294.3 530.6,292.8 531.2,295.1 531.8,299.4 532.3,294.4 533,291.9 533.8,294.4 534.5,290.6 535.3,293.1 536,290 536.8,288.7 537.5,299.4 538.3,294.4 539,289.4 539.8,288.1 540.6,291.9 541.3,288.7 542.1,288.1 542.8,290.6 543.3,298.2 544.1,291.9 544.8,291.3 545.6,290 546.3,288.7 547.1,287.5 547.8,283.7 548.6,286.9 549.4,288.7 550.1,288.1 550.9,290.6 551.6,293.1 552.4,299.4 553.1,295 553.9,293.1 554.6,298.2 555.4,295.7 556.1,296.9 556.9,298.8 557.7,300.7 558.4,303.2 559.2,301.9 559.9,302.6 560.7,304.5 561.4,301.9 562.2,301.3 562.9,301.9 563.7,303.2 564.4,305.7 564.9,319.5 565.4,309.5 566,305.7 566.5,300.7 567,303.2 567.5,310.7 568,305.7 568.5,308.2 569,303.2 569.5,309.5 570,305.7 570.5,307 571,303.2 571.5,305.7 572,301.9 572.5,304.5 573,307 573.5,305.7 574,312 574.5,319.5 575,315.8 575.5,310.7 576,309.5 576.5,308.2 577,310.7 577.5,307 578,309.5 578.5,313.3 579,312 579.5,314.5 580,315.8 580.5,317 581,317.7 581.5,319.5 582,318.3 582.5,315.8 583,320.8 586,325.2 586.8,327.7 587.5,330.2 588.3,329 589,330.2 589.8,334 590.5,336.5 591.3,337.8 592,340.3 592.8,339 593.5,336.5 594.3,340.3 595.1,335.3 595.8,339 596.6,336.5 597.3,335.3 598.1,340.3 598.6,344.1 599.1,347.8 599.6,342.8 600.1,346.6 600.6,345.3 601.1,342.8 601.6,346.6 602.1,345.3 602.6,340.3 603.1,345.3 603.6,337.8 604.1,335.3 604.6,345.3 605.1,344.1 605.6,340.3 606.1,339 606.6,337.8 607.1,336.5 607.6,335.3 608.1,337.8 608.6,335.9 609.1,335.3 609.6,337.8 610.1,340.3 610.6,337.8 611.1,341.5 611.6,342.8 612.2,345.3 612.7,347.8 613.2,340.3 613.7,344.1 614.2,346.6 614.7,340.3 615.2,344.1 615.7,342.8 616.2,346.6 616.7,344.1 617.2,347.8 617.7,349.1 618.2,345.3 618.7,347.8 619.2,342.8 619.7,349.1 620.2,345.3 620.7,340.3 621.2,342.8 621.7,349.1 622.2,350.3 622.7,345.3 623.2,340.3 623.7,342.8 624.2,347.8 624.7,344.1 625.2,340.3 625.7,342.8 626.2,339 626.7,337.8 627.2,342.8 627.7,335.3 628.2,335.3 628.7,342.8 629.2,349.1 629.6,347.3 630.1,350 630.7,351.3 631.2,348.6 631.8,349.1 632.3,350.3 632.8,346.6 633.3,342.8 633.8,340.3 634.3,337.8 634.8,339 635.3,336.5 635.8,340.3 636.1,337.8 636.6,336.4 637.2,335.1 637.7,333.7 638.3,335.1 638.8,335.3 639.3,334 639.8,331.5 640.3,332.7 640.8,329 641.3,327.7 641.8,325.2 642.3,327.7 642.8,323.9 643.1,322.9 643.7,321.6 644.2,322.9 644.8,320.2 645.3,317.5 645.8,327.7 646.3,337.8 646.8,344.1 647.4,334 647.9,330.2 648.4,331.5 648.9,329 649.4,327.7 649.9,326.5 650.2,327 650.7,328.3 651.3,325.6 651.8,324.3 652.3,328.3 652.9,331 653.4,329.7 654,325.6 654.5,328.3 655.1,327 655.6,324.3 656.1,322.9 656.7,325.6 657.2,328.3 657.8,329.7 658.3,337.8 658.8,329.7 659.4,325.6 659.9,322.9 660.5,320.2 661,317.5 661.6,314.8 662.1,313.4 662.6,316.1 663.2,320.2 663.7,331 664.3,325.6 664.8,321.6 665.3,318.8 665.9,317.5 666.4,318.8 667,316.1 667.5,314.8 668.1,316.8 668.6,316.1 669.1,314.8 669.7,317.5 670.2,320.2 670.8,327 671.3,318.8 671.8,312.1 672.4,306.7 672.9,304 673.5,301.2 674,308 674.6,302.6 675.1,299.9 675.6,305.3 676.2,306.7 676.7,301.2 677.3,312.1 677.8,329.7 678.3,306.7 678.9,302.6 679.4,308 680,301.2 680.5,298.5"/>
<g fill="#1d9cf0"><circle cx="428.4" cy="438.4" r="1.8"/><circle cx="435.5" cy="440.3" r="1.8"/><circle cx="443.7" cy="443.4" r="1.8"/><circle cx="453.8" cy="446.5" r="1.8"/><circle cx="464.5" cy="448.4" r="1.8"/><circle cx="477.1" cy="443" r="1.8"/><circle cx="483.9" cy="438.9" r="1.8"/><circle cx="498.8" cy="431.5" r="1.8"/><circle cx="511.6" cy="417.9" r="1.8"/><circle cx="518.4" cy="410.5" r="1.8"/><circle cx="533.3" cy="402.4" r="1.8"/><circle cx="539.8" cy="399" r="1.8"/><circle cx="546.3" cy="399.4" r="1.8"/><circle cx="554" cy="399.4" r="1.8"/><circle cx="561.2" cy="405.5" r="1.8"/><circle cx="577.7" cy="416.6" r="1.8"/><circle cx="581.7" cy="422" r="1.8"/><circle cx="589.9" cy="435.5" r="1.8"/><circle cx="596.6" cy="443.7" r="1.8"/><circle cx="596.9" cy="444" r="1.8"/><circle cx="603.8" cy="444" r="1.8"/><circle cx="622.4" cy="451.5" r="1.8"/><circle cx="629.2" cy="450.9" r="1.8"/><circle cx="638" cy="451.5" r="1.8"/><circle cx="630" cy="450.9" r="1.8"/><circle cx="638.4" cy="451.6" r="1.8"/><circle cx="650.3" cy="437.4" r="1.8"/><circle cx="655.7" cy="434" r="1.8"/><circle cx="663.8" cy="429.9" r="1.8"/><circle cx="676" cy="419.8" r="1.8"/><circle cx="682.5" cy="419.1" r="1.8"/></g>
<polyline fill="none" stroke="#000" stroke-width="2.2" stroke-linejoin="round" points="410.4,418.9 411,421.4 411.5,417.6 412,416.4 412.8,417.6 413.3,422 413.8,427.7 414.3,436.5 414.8,423.9 415.3,421.4 415.8,427.7 416.3,423.9 416.8,426.4 417.3,425.2 417.8,427.7 418.3,432.7 418.8,434 419.3,431.5 419.8,434 420.3,432.7 420.8,435.2 421.3,432.7 421.8,431.5 422.3,436.5 422.8,440.3 423.3,446.5 423.9,445.3 424.4,447.8 424.9,449.1 425.4,447.8 425.9,450.3 426.4,451.6 426.9,442.8 427.4,445.3 427.9,441.5 428.4,445.3 428.9,442.8 429.4,435.2 429.9,426.4 430.4,427.7 430.9,435.2 431.4,446.5 431.9,441.5 432.4,447.8 432.9,442.8 433.4,446.5 433.9,442.8 434.4,441.5 434.9,445.3 435.4,442.8 435.9,446.5 436.4,441.5 436.9,445.3 437.4,447.8 437.9,442.8 438.4,449.1 438.9,445.3 439.4,442.8 439.9,446.5 440.4,444 441,442.8 441.5,446.5 442,447.8 442.5,442.8 443,445.3 443.5,447.8 444,444 444.5,445.3 445,442.8 445.5,446.5 446,444 446.5,441.5 447,445.3 447.5,444 448,446.5 448.5,447.8 449,445.3 449.5,449.1 450,446.5 450.5,449.1 451,447.8 451.5,445.3 452,447.8 452.5,446.5 453,449.1 453.5,446.5 454,445.3 454.5,447.8 455,445.3 455.5,446.5 456,444 456.5,442.8 457,445.3 457.5,446.5 458,444 458.6,446.5 459.1,445.3 459.6,444 460.1,445.3 460.6,446.5 461.1,444 461.6,442.8 462.1,445.3 462.6,441.5 463.1,442.8 463.6,445.3 464.1,444 464.6,441.5 465.1,442.8 465.6,445.3 466.1,442.8 466.6,441.5 467.1,440.3 467.6,442.1 468.1,440.3 468.6,441.5 469.1,440.3 469.6,442.8 470.1,441.5 470.6,442.8 471,441.6 472.1,444.3 472.9,441.6 473.7,443 474.5,441 475.3,441.6 476.1,440.3 477,443 477.8,441 478.6,439.6 479.4,441.6 480.2,443 481,440.3 481.8,441.6 482.6,444.3 483.5,441.6 484.3,443 485.1,445 485.9,441.6 486.7,440.3 487.5,437.6 488.3,434.9 488.9,430.8 489.4,432.2 490,433.5 490.8,429.4 491.6,428.1 492.4,429.4 492.9,432.2 493.5,434.9 494,438.9 494.8,441.6 495.6,443 496.5,438.9 497.3,434.9 497.8,432.2 498.3,429.4 498.9,426.7 499.4,424 500,422.7 500.5,420 501.1,424 501.6,426.7 502.1,429.4 502.7,421.3 503.2,417.3 503.8,418.6 504.3,426.7 504.8,429.4 505.4,425.4 505.9,421.3 506.5,417.3 507,411.8 507.6,409.1 508.1,407.8 508.6,410.5 509.2,415.9 509.7,418.6 510.3,417.3 510.8,414.6 511.3,413.2 511.9,414.6 512.4,411.8 513,413.2 513.5,410.5 514.1,411.2 514.6,409.8 515.1,407.8 515.7,406.4 516.2,407.1 516.8,405.8 517.3,406.4 517.8,405.1 518.4,406.4 518.9,405.8 519.5,406.4 520,405.8 520.6,404.4 521.1,405.8 521.6,406.4 522.2,405.1 522.7,404.4 523.3,405.1 523.8,403.7 524.3,404.4 524.9,405.1 525.4,403.7 526,404.4 526.5,405.1 527.1,404.4 527.6,405.1 528.1,410.5 528.7,422.7 529.2,407.8 529.8,403.7 530.3,403 530.8,405.1 531.4,404.4 531.9,403.7 532.5,406.4 533,409.1 533.8,410.5 534.6,406.4 535.4,405.1 536.2,407.1 537.1,405.1 537.9,403.7 538.7,405.1 539.5,409.8 540.3,406.4 541.1,404.4 541.9,403 542.7,402.4 543.6,405.1 544.4,403 545.2,410.5 546,406.4 546.8,405.1 547.6,403.7 548.4,403 549.2,401.7 550.1,401 550.9,402.4 551.7,403.7 552.5,405.1 553.3,406.4 554.1,409.1 554.9,410.5 555.7,406.4 556.6,407.1 557.4,408.5 558.2,409.1 559,410.5 559.8,412.5 560.6,414.6 561.4,411.8 562.2,413.9 563.1,411.2 563.9,411.8 564.7,413.2 565.5,414.6 566.3,417.3 566.8,424 567.4,418.6 567.9,414.6 568.5,413.2 569,410.5 569.6,415.9 570.1,418.6 570.6,415.9 571.2,413.2 571.7,417.3 572.3,414.6 572.8,418.6 573.3,421.3 573.9,415.9 574.4,413.2 575,411.8 575.5,415.9 576.1,418.6 576.6,414.6 577.1,417.3 577.7,418.6 578.2,415.9 578.8,414.6 579.3,413.2 579.8,415.9 580.4,417.3 580.9,418.6 581.5,420 582,421.3 582.6,420.6 583.1,421.3 583.6,422.7 584.2,424 584.7,426.7 585.3,432.2 585.8,440.3 586.3,441.6 586.9,434.9 587.4,429.4 588,428.1 588.5,429.4 589.1,434.9 589.6,432.2 590,433.9 590.7,433.5 591,431.4 591.8,434.9 592.3,433.5 592.8,436.5 593.4,437.6 593.9,438.9 594.3,439 594.7,437.6 595.6,438.2 596.4,438.9 597.3,441.5 598,440.2 598.8,442.7 599.6,442.1 600.3,445.3 601.1,447.8 601.8,446.5 602.6,447.8 603.3,448.4 604.1,445.3 604.8,447.8 605.6,440.2 606.3,439 607.1,438.3 607.9,439 608.6,440.2 609.4,442.7 610.1,441.5 610.9,442.7 611.6,444 612.4,441.5 613.1,442.7 613.9,445.3 614.6,446.5 615.4,447.8 616.2,449 616.9,446.5 617.7,445.3 618.4,447.8 619.2,446.5 619.9,447.8 620.7,445.3 621.4,447.8 622.2,446.5 622.9,444 623.7,446.5 624.4,447.8 625.2,446.5 626,445.3 626.7,444 627.5,445.3 628.2,442.7 629,441.5 629.7,440.2 630.5,442.7 630.8,442.8 631.2,446.5 631.6,446.9 632,447.8 632.4,448.2 632.7,449 633.2,449.6 634.1,446.9 634.9,445.5 635.7,446.9 636.5,444.2 637.3,442.7 638,441.5 638.8,442.7 639.5,441.5 640.6,441.4 641.4,440.8 642.2,441.4 643,438.7 643.8,436 644.4,430.6 644.9,429.3 645.7,430.6 646.2,427.9 646.8,426.6 647.3,427.9 647.9,430.6 648.4,441.4 649,445.5 649.5,440.1 650,437.4 650.6,434.7 651.1,437.4 651.7,433.3 652.2,432 652.7,434.7 653.3,437.4 653.8,436 654.4,432 654.9,434.7 655.5,437.4 656,434.7 656.5,432 657.1,430.6 657.6,433.3 658.2,430.6 658.7,429.3 659.2,433.3 659.8,437.4 660.3,441.4 660.9,442.8 661.4,438.7 662,433.3 662.5,430.6 663,429.3 663.6,427.9 664.1,426.6 664.7,425.2 665.2,423.8 665.7,427.9 666.3,434.7 666.8,438.7 667.4,436 667.9,433.3 668.5,430.6 669,427.9 669.5,426.6 670.1,427.9 670.6,425.2 671.2,426.6 671.7,423.8 672.2,425.2 672.8,427.9 673.3,434.7 673.9,427.9 674.4,425.2 674.9,417.1 675.5,415.7 676,413 676.6,418.4 677.1,415.7 677.7,411.7 678.2,414.4 678.7,417.1 679.3,412.3 679.8,423.8 680.4,437.4 680.9,419.8 681.4,414.4 682,413 682.5,411.7 683.1,415.7 683.6,418.4 684.2,415.7"/>
<rect x="110.7" y="0.9" width="75.4" height="13" fill="#fff"/>
<circle cx="90.4" cy="6.4" r="1.05" fill="#a3160c"/>
<text x="113.7" y="10.9" font-size="11" font-weight="bold">Estimated ST5</text>
<rect x="229.9" y="0.9" width="72.9" height="13" fill="#fff"/>
<line x1="207.2" x2="217.2" y1="6.1" y2="6.1" stroke="#000" stroke-width="1.6"/>
<text x="232.9" y="10.9" font-size="11" font-weight="bold">Observed ST5</text>
<rect x="105.2" y="137.4" width="80.9" height="13" fill="#fff"/>
<circle cx="93.1" cy="143.2" r="1.05" fill="#a3160c"/>
<text x="108.2" y="147.4" font-size="11" font-weight="bold">Estimated ST10</text>
<rect x="226.9" y="137.4" width="78.4" height="13" fill="#fff"/>
<line x1="208.8" x2="218.8" y1="143.2" y2="143.2" stroke="#000" stroke-width="1.6"/>
<text x="229.9" y="147.4" font-size="11" font-weight="bold">Observed ST10</text>
<rect x="105.2" y="255.4" width="80.9" height="13" fill="#fff"/>
<circle cx="91.8" cy="261.6" r="1.05" fill="#a3160c"/>
<text x="108.2" y="265.4" font-size="11" font-weight="bold">Estimated ST20</text>
<rect x="226.9" y="255.4" width="78.4" height="13" fill="#fff"/>
<line x1="206.4" x2="216.4" y1="261.6" y2="261.6" stroke="#000" stroke-width="1.6"/>
<text x="229.9" y="265.4" font-size="11" font-weight="bold">Observed ST20</text>
<rect x="105.2" y="364.6" width="80.9" height="13" fill="#fff"/>
<circle cx="95.1" cy="368.7" r="1.05" fill="#a3160c"/>
<text x="108.2" y="374.6" font-size="11" font-weight="bold">Estimated ST50</text>
<rect x="226.9" y="364.6" width="78.4" height="13" fill="#fff"/>
<line x1="209.8" x2="219.8" y1="368.7" y2="368.7" stroke="#000" stroke-width="1.6"/>
<text x="229.9" y="374.6" font-size="11" font-weight="bold">Observed ST50</text>
<rect x="455.9" y="0.9" width="75.4" height="13" fill="#fff"/>
<line x1="436.1" x2="446.1" y1="6.1" y2="6.1" stroke="#000" stroke-width="1.6"/>
<text x="458.9" y="10.9" font-size="11" font-weight="bold">Estimated ST5</text>
<rect x="575.2" y="0.9" width="72.9" height="13" fill="#fff"/>
<circle cx="557.5" cy="6.1" r="0.9" fill="#1d9cf0"/>
<text x="578.2" y="10.9" font-size="11" font-weight="bold">Observed ST5</text>
<rect x="452.9" y="119" width="80.9" height="13" fill="#fff"/>
<line x1="434.1" x2="444.1" y1="123.7" y2="123.7" stroke="#000" stroke-width="1.6"/>
<text x="455.9" y="129" font-size="11" font-weight="bold">Estimated ST10</text>
<rect x="572.3" y="119" width="78.4" height="13" fill="#fff"/>
<circle cx="559" cy="123.6" r="0.9" fill="#1d9cf0"/>
<text x="575.3" y="129" font-size="11" font-weight="bold">Observed ST10</text>
<rect x="457.7" y="251" width="80.9" height="13" fill="#fff"/>
<line x1="438.5" x2="448.5" y1="254.5" y2="254.5" stroke="#000" stroke-width="1.6"/>
<text x="460.7" y="261" font-size="11" font-weight="bold">Estimated ST20</text>
<rect x="572.3" y="251" width="78.4" height="13" fill="#fff"/>
<circle cx="563.5" cy="255.2" r="0.9" fill="#1d9cf0"/>
<text x="575.3" y="261" font-size="11" font-weight="bold">Observed ST20</text>
<rect x="453" y="364.2" width="80.9" height="13" fill="#fff"/>
<line x1="436.9" x2="446.9" y1="370.2" y2="370.2" stroke="#000" stroke-width="1.6"/>
<text x="456" y="374.2" font-size="11" font-weight="bold">Estimated ST50</text>
<rect x="572.3" y="364.2" width="78.4" height="13" fill="#fff"/>
<circle cx="561.2" cy="370.8" r="0.9" fill="#1d9cf0"/>
<text x="575.3" y="374.2" font-size="11" font-weight="bold">Observed ST50</text>
<text transform="translate(62.7,487.6) scale(1,1.07)" font-size="10.9" text-anchor="middle">1</text>
<text transform="translate(80.2,487.6) scale(1,1.07)" font-size="10.9" text-anchor="middle">39</text>
<text transform="translate(97.7,487.6) scale(1,1.07)" font-size="10.9" text-anchor="middle">77</text>
<text transform="translate(115.2,487.6) scale(1,1.07)" font-size="10.9" text-anchor="middle">115</text>
<text transform="translate(132.7,487.6) scale(1,1.07)" font-size="10.9" text-anchor="middle">153</text>
<text transform="translate(150.2,487.6) scale(1,1.07)" font-size="10.9" text-anchor="middle">191</text>
<text transform="translate(167.8,487.6) scale(1,1.07)" font-size="10.9" text-anchor="middle">229</text>
<text transform="translate(185.3,487.6) scale(1,1.07)" font-size="10.9" text-anchor="middle">267</text>
<text transform="translate(202.8,487.6) scale(1,1.07)" font-size="10.9" text-anchor="middle">305</text>
<text transform="translate(220.3,487.6) scale(1,1.07)" font-size="10.9" text-anchor="middle">343</text>
<text transform="translate(237.8,487.6) scale(1,1.07)" font-size="10.9" text-anchor="middle">381</text>
<text transform="translate(255.3,487.6) scale(1,1.07)" font-size="10.9" text-anchor="middle">419</text>
<text transform="translate(272.8,487.6) scale(1,1.07)" font-size="10.9" text-anchor="middle">457</text>
<text transform="translate(290.3,487.6) scale(1,1.07)" font-size="10.9" text-anchor="middle">495</text>
<text transform="translate(307.8,487.6) scale(1,1.07)" font-size="10.9" text-anchor="middle">533</text>
<text transform="translate(325.4,487.6) scale(1,1.07)" font-size="10.9" text-anchor="middle">593</text>
<text transform="translate(410.1,486.5) scale(1,1.07)" font-size="10.9" text-anchor="middle">1</text>
<text transform="translate(427.6,486.5) scale(1,1.07)" font-size="10.9" text-anchor="middle">39</text>
<text transform="translate(445.1,486.5) scale(1,1.07)" font-size="10.9" text-anchor="middle">77</text>
<text transform="translate(462.6,486.5) scale(1,1.07)" font-size="10.9" text-anchor="middle">115</text>
<text transform="translate(480.1,486.5) scale(1,1.07)" font-size="10.9" text-anchor="middle">153</text>
<text transform="translate(497.7,486.5) scale(1,1.07)" font-size="10.9" text-anchor="middle">191</text>
<text transform="translate(515.2,486.5) scale(1,1.07)" font-size="10.9" text-anchor="middle">229</text>
<text transform="translate(532.7,486.5) scale(1,1.07)" font-size="10.9" text-anchor="middle">267</text>
<text transform="translate(550.2,486.5) scale(1,1.07)" font-size="10.9" text-anchor="middle">305</text>
<text transform="translate(567.7,486.5) scale(1,1.07)" font-size="10.9" text-anchor="middle">343</text>
<text transform="translate(585.2,486.5) scale(1,1.07)" font-size="10.9" text-anchor="middle">381</text>
<text transform="translate(602.7,486.5) scale(1,1.07)" font-size="10.9" text-anchor="middle">419</text>
<text transform="translate(620.2,486.5) scale(1,1.07)" font-size="10.9" text-anchor="middle">457</text>
<text transform="translate(637.7,486.5) scale(1,1.07)" font-size="10.9" text-anchor="middle">495</text>
<text transform="translate(655.2,486.5) scale(1,1.07)" font-size="10.9" text-anchor="middle">533</text>
<text transform="translate(672.8,486.5) scale(1,1.07)" font-size="10.9" text-anchor="middle">593</text>
<text transform="translate(199,512.6) scale(1,1.05)" font-size="17" text-anchor="middle">Giresun Station</text>
<text transform="translate(543.6,512.9) scale(1,1.05)" font-size="17" text-anchor="middle">Bayburt Station</text>
<rect x="103.3" y="3" width="1.2" height="1.2" fill="#ddd"/><rect x="103.3" y="9.8" width="1.2" height="1.2" fill="#ddd"/>
</svg></body></html>
